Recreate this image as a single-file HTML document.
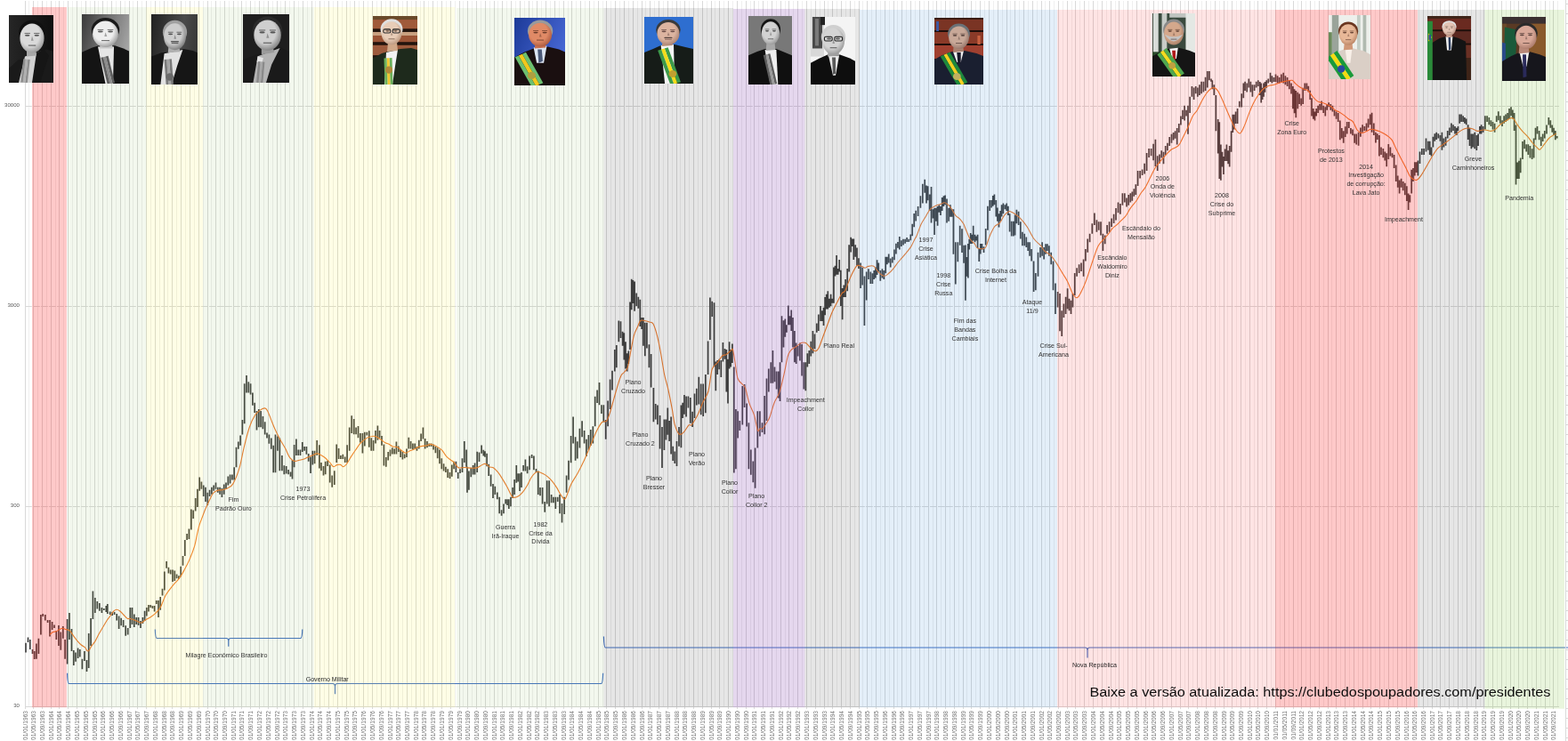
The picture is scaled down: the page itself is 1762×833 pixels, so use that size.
<!DOCTYPE html>
<html><head><meta charset="utf-8"><title>Ibovespa e Presidentes</title>
<style>
html,body{margin:0;padding:0;background:#fff;}
body{width:1762px;height:833px;overflow:hidden;position:relative;}
svg{position:absolute;left:0;top:0;display:block;}
.a{font-family:"Liberation Sans",Arial,sans-serif;font-size:7.1px;fill:#303030;text-anchor:middle;}
.b{fill:#262626;}
.xl{font-family:"Liberation Sans",Arial,sans-serif;font-size:6.6px;fill:#707070;text-anchor:end;}
.yl{font-family:"Liberation Sans",Arial,sans-serif;font-size:6.1px;fill:#595959;text-anchor:end;}
.url{font-family:"Liberation Sans",Arial,sans-serif;font-size:14px;fill:#0d0d0d;}
</style></head>
<body>
<svg width="1762" height="833" viewBox="0 0 1762 833">
<g id="chart">
<path d="M32.5 1V794.5M42.5 1V794.5M52.5 1V794.5M62.5 1V794.5M71.5 1V794.5M81.5 1V794.5M91.5 1V794.5M101.5 1V794.5M110.5 1V794.5M120.5 1V794.5M130.5 1V794.5M140.5 1V794.5M149.5 1V794.5M159.5 1V794.5M169.5 1V794.5M179.5 1V794.5M188.5 1V794.5M198.5 1V794.5M208.5 1V794.5M218.5 1V794.5M228.5 1V794.5M237.5 1V794.5M247.5 1V794.5M257.5 1V794.5M267.5 1V794.5M276.5 1V794.5M286.5 1V794.5M296.5 1V794.5M306.5 1V794.5M315.5 1V794.5M325.5 1V794.5M335.5 1V794.5M345.5 1V794.5M354.5 1V794.5M364.5 1V794.5M374.5 1V794.5M384.5 1V794.5M393.5 1V794.5M403.5 1V794.5M413.5 1V794.5M423.5 1V794.5M433.5 1V794.5M442.5 1V794.5M452.5 1V794.5M462.5 1V794.5M472.5 1V794.5M481.5 1V794.5M491.5 1V794.5M501.5 1V794.5M511.5 1V794.5M520.5 1V794.5M530.5 1V794.5M540.5 1V794.5M550.5 1V794.5M559.5 1V794.5M569.5 1V794.5M579.5 1V794.5M589.5 1V794.5M598.5 1V794.5M608.5 1V794.5M618.5 1V794.5M628.5 1V794.5M638.5 1V794.5M647.5 1V794.5M657.5 1V794.5M667.5 1V794.5M677.5 1V794.5M686.5 1V794.5M696.5 1V794.5M706.5 1V794.5M716.5 1V794.5M725.5 1V794.5M735.5 1V794.5M745.5 1V794.5M755.5 1V794.5M764.5 1V794.5M774.5 1V794.5M784.5 1V794.5M794.5 1V794.5M803.5 1V794.5M813.5 1V794.5M823.5 1V794.5M833.5 1V794.5M843.5 1V794.5M852.5 1V794.5M862.5 1V794.5M872.5 1V794.5M882.5 1V794.5M891.5 1V794.5M901.5 1V794.5M911.5 1V794.5M921.5 1V794.5M930.5 1V794.5M940.5 1V794.5M950.5 1V794.5M960.5 1V794.5M969.5 1V794.5M979.5 1V794.5M989.5 1V794.5M999.5 1V794.5M1008.5 1V794.5M1018.5 1V794.5M1028.5 1V794.5M1038.5 1V794.5M1048.5 1V794.5M1057.5 1V794.5M1067.5 1V794.5M1077.5 1V794.5M1086.5 1V794.5M1096.5 1V794.5M1106.5 1V794.5M1116.5 1V794.5M1126.5 1V794.5M1135.5 1V794.5M1145.5 1V794.5M1155.5 1V794.5M1165.5 1V794.5M1174.5 1V794.5M1184.5 1V794.5M1194.5 1V794.5M1204.5 1V794.5M1213.5 1V794.5M1223.5 1V794.5M1233.5 1V794.5M1243.5 1V794.5M1253.5 1V794.5M1262.5 1V794.5M1272.5 1V794.5M1282.5 1V794.5M1291.5 1V794.5M1301.5 1V794.5M1311.5 1V794.5M1321.5 1V794.5M1331.5 1V794.5M1340.5 1V794.5M1350.5 1V794.5M1360.5 1V794.5M1370.5 1V794.5M1379.5 1V794.5M1389.5 1V794.5M1399.5 1V794.5M1409.5 1V794.5M1418.5 1V794.5M1428.5 1V794.5M1438.5 1V794.5M1448.5 1V794.5M1458.5 1V794.5M1467.5 1V794.5M1477.5 1V794.5M1487.5 1V794.5M1496.5 1V794.5M1506.5 1V794.5M1516.5 1V794.5M1526.5 1V794.5M1536.5 1V794.5M1545.5 1V794.5M1555.5 1V794.5M1565.5 1V794.5M1575.5 1V794.5M1584.5 1V794.5M1594.5 1V794.5M1604.5 1V794.5M1614.5 1V794.5M1623.5 1V794.5M1633.5 1V794.5M1643.5 1V794.5M1653.5 1V794.5M1663.5 1V794.5M1672.5 1V794.5M1682.5 1V794.5M1692.5 1V794.5M1701.5 1V794.5M1711.5 1V794.5M1721.5 1V794.5M1731.5 1V794.5M1741.5 1V794.5M1750.5 1V794.5" stroke="#EFEFEF" stroke-width="1" fill="none"/>
<path d="M28.5 1V794.5M37.5 1V794.5M47.5 1V794.5M57.5 1V794.5M66.5 1V794.5M76.5 1V794.5M86.5 1V794.5M96.5 1V794.5M106.5 1V794.5M115.5 1V794.5M125.5 1V794.5M135.5 1V794.5M145.5 1V794.5M154.5 1V794.5M164.5 1V794.5M174.5 1V794.5M184.5 1V794.5M193.5 1V794.5M203.5 1V794.5M213.5 1V794.5M223.5 1V794.5M233.5 1V794.5M242.5 1V794.5M252.5 1V794.5M262.5 1V794.5M271.5 1V794.5M281.5 1V794.5M291.5 1V794.5M301.5 1V794.5M311.5 1V794.5M320.5 1V794.5M330.5 1V794.5M340.5 1V794.5M350.5 1V794.5M359.5 1V794.5M369.5 1V794.5M379.5 1V794.5M389.5 1V794.5M398.5 1V794.5M408.5 1V794.5M418.5 1V794.5M428.5 1V794.5M438.5 1V794.5M447.5 1V794.5M457.5 1V794.5M467.5 1V794.5M476.5 1V794.5M486.5 1V794.5M496.5 1V794.5M506.5 1V794.5M516.5 1V794.5M525.5 1V794.5M535.5 1V794.5M545.5 1V794.5M555.5 1V794.5M564.5 1V794.5M574.5 1V794.5M584.5 1V794.5M594.5 1V794.5M603.5 1V794.5M613.5 1V794.5M623.5 1V794.5M633.5 1V794.5M642.5 1V794.5M652.5 1V794.5M662.5 1V794.5M672.5 1V794.5M681.5 1V794.5M691.5 1V794.5M701.5 1V794.5M711.5 1V794.5M721.5 1V794.5M730.5 1V794.5M740.5 1V794.5M750.5 1V794.5M760.5 1V794.5M769.5 1V794.5M779.5 1V794.5M789.5 1V794.5M799.5 1V794.5M808.5 1V794.5M818.5 1V794.5M828.5 1V794.5M838.5 1V794.5M847.5 1V794.5M857.5 1V794.5M867.5 1V794.5M877.5 1V794.5M886.5 1V794.5M896.5 1V794.5M906.5 1V794.5M916.5 1V794.5M926.5 1V794.5M935.5 1V794.5M945.5 1V794.5M955.5 1V794.5M965.5 1V794.5M974.5 1V794.5M984.5 1V794.5M994.5 1V794.5M1004.5 1V794.5M1013.5 1V794.5M1023.5 1V794.5M1033.5 1V794.5M1043.5 1V794.5M1052.5 1V794.5M1062.5 1V794.5M1072.5 1V794.5M1082.5 1V794.5M1091.5 1V794.5M1101.5 1V794.5M1111.5 1V794.5M1121.5 1V794.5M1131.5 1V794.5M1140.5 1V794.5M1150.5 1V794.5M1160.5 1V794.5M1170.5 1V794.5M1179.5 1V794.5M1189.5 1V794.5M1199.5 1V794.5M1208.5 1V794.5M1218.5 1V794.5M1228.5 1V794.5M1238.5 1V794.5M1248.5 1V794.5M1257.5 1V794.5M1267.5 1V794.5M1277.5 1V794.5M1287.5 1V794.5M1296.5 1V794.5M1306.5 1V794.5M1316.5 1V794.5M1326.5 1V794.5M1335.5 1V794.5M1345.5 1V794.5M1355.5 1V794.5M1365.5 1V794.5M1375.5 1V794.5M1384.5 1V794.5M1394.5 1V794.5M1404.5 1V794.5M1413.5 1V794.5M1423.5 1V794.5M1433.5 1V794.5M1443.5 1V794.5M1453.5 1V794.5M1462.5 1V794.5M1472.5 1V794.5M1482.5 1V794.5M1492.5 1V794.5M1501.5 1V794.5M1511.5 1V794.5M1521.5 1V794.5M1531.5 1V794.5M1540.5 1V794.5M1550.5 1V794.5M1560.5 1V794.5M1570.5 1V794.5M1580.5 1V794.5M1589.5 1V794.5M1599.5 1V794.5M1609.5 1V794.5M1618.5 1V794.5M1628.5 1V794.5M1638.5 1V794.5M1648.5 1V794.5M1658.5 1V794.5M1667.5 1V794.5M1677.5 1V794.5M1687.5 1V794.5M1697.5 1V794.5M1706.5 1V794.5M1716.5 1V794.5M1726.5 1V794.5M1736.5 1V794.5M1745.5 1V794.5" stroke="#D9D9D9" stroke-width="1" fill="none"/>
<path d="M28 119.5H1752" stroke="#D9D9D9" stroke-width="1" stroke-dasharray="7.8 1.2"/>
<path d="M28 344.5H1752" stroke="#D9D9D9" stroke-width="1" stroke-dasharray="7.8 1.2"/>
<path d="M28 569.5H1752" stroke="#D9D9D9" stroke-width="1" stroke-dasharray="7.8 1.2"/>
<path d="M28 794.5H1752" stroke="#D9D9D9" stroke-width="1"/>
<path d="M28.5 794.5V797.1M37.5 794.5V797.1M47.5 794.5V797.1M57.5 794.5V797.1M66.5 794.5V797.1M76.5 794.5V797.1M86.5 794.5V797.1M96.5 794.5V797.1M106.5 794.5V797.1M115.5 794.5V797.1M125.5 794.5V797.1M135.5 794.5V797.1M145.5 794.5V797.1M154.5 794.5V797.1M164.5 794.5V797.1M174.5 794.5V797.1M184.5 794.5V797.1M193.5 794.5V797.1M203.5 794.5V797.1M213.5 794.5V797.1M223.5 794.5V797.1M233.5 794.5V797.1M242.5 794.5V797.1M252.5 794.5V797.1M262.5 794.5V797.1M271.5 794.5V797.1M281.5 794.5V797.1M291.5 794.5V797.1M301.5 794.5V797.1M311.5 794.5V797.1M320.5 794.5V797.1M330.5 794.5V797.1M340.5 794.5V797.1M350.5 794.5V797.1M359.5 794.5V797.1M369.5 794.5V797.1M379.5 794.5V797.1M389.5 794.5V797.1M398.5 794.5V797.1M408.5 794.5V797.1M418.5 794.5V797.1M428.5 794.5V797.1M438.5 794.5V797.1M447.5 794.5V797.1M457.5 794.5V797.1M467.5 794.5V797.1M476.5 794.5V797.1M486.5 794.5V797.1M496.5 794.5V797.1M506.5 794.5V797.1M516.5 794.5V797.1M525.5 794.5V797.1M535.5 794.5V797.1M545.5 794.5V797.1M555.5 794.5V797.1M564.5 794.5V797.1M574.5 794.5V797.1M584.5 794.5V797.1M594.5 794.5V797.1M603.5 794.5V797.1M613.5 794.5V797.1M623.5 794.5V797.1M633.5 794.5V797.1M642.5 794.5V797.1M652.5 794.5V797.1M662.5 794.5V797.1M672.5 794.5V797.1M681.5 794.5V797.1M691.5 794.5V797.1M701.5 794.5V797.1M711.5 794.5V797.1M721.5 794.5V797.1M730.5 794.5V797.1M740.5 794.5V797.1M750.5 794.5V797.1M760.5 794.5V797.1M769.5 794.5V797.1M779.5 794.5V797.1M789.5 794.5V797.1M799.5 794.5V797.1M808.5 794.5V797.1M818.5 794.5V797.1M828.5 794.5V797.1M838.5 794.5V797.1M847.5 794.5V797.1M857.5 794.5V797.1M867.5 794.5V797.1M877.5 794.5V797.1M886.5 794.5V797.1M896.5 794.5V797.1M906.5 794.5V797.1M916.5 794.5V797.1M926.5 794.5V797.1M935.5 794.5V797.1M945.5 794.5V797.1M955.5 794.5V797.1M965.5 794.5V797.1M974.5 794.5V797.1M984.5 794.5V797.1M994.5 794.5V797.1M1004.5 794.5V797.1M1013.5 794.5V797.1M1023.5 794.5V797.1M1033.5 794.5V797.1M1043.5 794.5V797.1M1052.5 794.5V797.1M1062.5 794.5V797.1M1072.5 794.5V797.1M1082.5 794.5V797.1M1091.5 794.5V797.1M1101.5 794.5V797.1M1111.5 794.5V797.1M1121.5 794.5V797.1M1131.5 794.5V797.1M1140.5 794.5V797.1M1150.5 794.5V797.1M1160.5 794.5V797.1M1170.5 794.5V797.1M1179.5 794.5V797.1M1189.5 794.5V797.1M1199.5 794.5V797.1M1208.5 794.5V797.1M1218.5 794.5V797.1M1228.5 794.5V797.1M1238.5 794.5V797.1M1248.5 794.5V797.1M1257.5 794.5V797.1M1267.5 794.5V797.1M1277.5 794.5V797.1M1287.5 794.5V797.1M1296.5 794.5V797.1M1306.5 794.5V797.1M1316.5 794.5V797.1M1326.5 794.5V797.1M1335.5 794.5V797.1M1345.5 794.5V797.1M1355.5 794.5V797.1M1365.5 794.5V797.1M1375.5 794.5V797.1M1384.5 794.5V797.1M1394.5 794.5V797.1M1404.5 794.5V797.1M1413.5 794.5V797.1M1423.5 794.5V797.1M1433.5 794.5V797.1M1443.5 794.5V797.1M1453.5 794.5V797.1M1462.5 794.5V797.1M1472.5 794.5V797.1M1482.5 794.5V797.1M1492.5 794.5V797.1M1501.5 794.5V797.1M1511.5 794.5V797.1M1521.5 794.5V797.1M1531.5 794.5V797.1M1540.5 794.5V797.1M1550.5 794.5V797.1M1560.5 794.5V797.1M1570.5 794.5V797.1M1580.5 794.5V797.1M1589.5 794.5V797.1M1599.5 794.5V797.1M1609.5 794.5V797.1M1618.5 794.5V797.1M1628.5 794.5V797.1M1638.5 794.5V797.1M1648.5 794.5V797.1M1658.5 794.5V797.1M1667.5 794.5V797.1M1677.5 794.5V797.1M1687.5 794.5V797.1M1697.5 794.5V797.1M1706.5 794.5V797.1M1716.5 794.5V797.1M1726.5 794.5V797.1M1736.5 794.5V797.1M1745.5 794.5V797.1" stroke="#D9D9D9" stroke-width="1"/>
<path d="M29 722.8V733.6M31.5 716.6V722M33.8 719V730M36.5 730V735M38.7 732V741M40.9 723.5V740.8M43.4 717.7V735M45.9 691V713.4M48.2 690V693M50.8 691V697.5M53.6 697V700M56 697V715.5M58.6 699V708M61 702.6V706M63.3 709V719M66 703V726M68.3 710.5V730.7M70.8 704V717.7M73.1 719V740.8M75.6 696V746.5M78 689V719M80.5 707V732M82.8 731V748M85 733.6V743.7M87.6 728.5V740M89.8 730V738.6M92.4 740.8V752.3M94.9 732V743M97.5 742V755M99.7 712V751M102.1 695V726M104.4 664.4V696M106.8 672V689M109.3 676V684.6M111.8 678V686.7M114.4 683V689M116.8 684V686M119.3 681V688M120.8 679V690M123.7 687.5V691M126.2 688V692M128.6 688V691M131.2 690V697.5M133.6 692.5V707M136.1 694.7V703.3M138.6 697V705M141.2 703.3V714.8M143.7 706V713.4M146.3 683V706M148.5 683V702M150.8 690.5V705M153.2 694V702M155.6 694V703M158 698V706M160.4 694V701M162.6 686.7V698M164.8 683V692.4M167 680V687.6M169.2 680V683M171.4 681V684M173.6 681V687.6M175.8 675V679M178 675V694M180.2 671V685.7M182.5 661.7V669.4M184.8 642.5V663.6M187.1 631V638.7M189.4 637.7V644.5M191.7 640.6V645.4M194 640.6V654M196.3 641.6V653M198.6 645.4V650.2M200.9 647.3V651M203.2 636.8V648.3M205.5 625V635.8M207.8 607V625M210.1 600V607M212.4 594.5V606M214.9 572.5V595.5M217.2 573.4V583M219.7 560V574.4M221.9 549.7V570M224.2 536.4V551.7M226.4 541.5V549.7M228.7 545.6V557.9M231 547.7V564M233.3 553.8V568M235.6 550.7V557.9M237.9 547.7V555.8M240.2 545.6V551.7M242.5 542.6V549.7M244.8 547.7V553.8M247.1 547.7V555.8M249.4 548.7V558.9M251.7 544.6V555.8M254 542.6V549.7M256.3 535.4V545.6M258.6 533.4V543.6M260.9 533.4V539.5M263.2 525.2V539.5M265.5 502.8V525.2M267.8 496.6V504.8M270.1 489.5V500.7M272.4 472.1V488.5M274.7 431.3V476.2M277 422.1V441.5M279.3 429.3V441.5M281.6 431.3V443.6M283.9 441.5V455.8M286.2 452.8V464M288.5 461.9V483.4M290.8 459.9V480.3M293.1 461.9V480.3M295.4 468V482.3M297.7 474.2V488.5M300 486.4V492.6M302.4 488.5V498.7M304.8 492.6V504.8M307.2 500.7V531.3M309.5 488.5V531.3M311.9 490.5V506.8M314.3 492.6V529.3M316.9 512V529.2M319.3 523.3V533.2M321.7 524V532.5M324.1 528V533.2M326.5 530.5V535.8M328.5 517.3V538.5M330.6 500V525.3M332.9 493.6V512M335.2 505.5V512M337.5 505.5V512M339.8 496.9V508M342.1 502V506.8M344.4 502V510.7M346.7 510V518.7M349 513.4V531.9M351.3 506.8V522.6M353.6 506.8V521.3M356.2 494.9V512M358.9 500.2V526.6M361 520V529.2M363.5 524V534.5M365.7 518.7V533.2M368.1 518V524M370.7 522.6V542.4M373.2 534.5V547.7M375.8 529.2V545M378.2 499.5V520M380.6 504.1V516M382.9 512V516M385.3 510.7V516M387.7 513.4V520M390.1 500.2V520M392.7 480.4V506.8M395.2 467.2V487M397.7 471V488.3M400.1 480.4V488.3M402.5 479V492.3M404.9 487V497.5M407.4 487V509.4M409.8 485.7V501.5M412.3 485.7V489.6M414.8 484.3V502.8M417.2 492.3V506.8M419.6 494.9V506.8M422 484V498.4M424.4 478.6V494.8M426.6 484V492.4M429 490V500.8M431.4 499.6V523.6M433.8 514V524.8M436.2 508V517.6M438.5 505.6V512.8M440.8 503.2V510.4M443.1 504.4V510.4M445.4 496.6V510.4M447.8 501.4V508M450.1 505.6V514M452.4 508V516.4M454.7 510.4V515.2M457 504.4V514M459.3 491.8V504.4M461.6 496V504.4M463.9 498.4V505.6M466.2 498.4V504.4M468.5 502V506.8M470.8 494.8V504.4M473.1 487.6V496M475.4 480.4V493.6M477.7 493V504.4M480 496V503.2M482.3 498.4V502M484.6 498.4V502M487 499.6V505.6M489.4 502V509.2M491.7 503.2V515.2M494 505.6V521.2M496.3 515.2V527.3M498.6 521.2V529.6M500.9 524.8V530.9M503.2 527.2V536.9M505.5 530.9V538M507.8 522.4V535.7M510.1 518.8V527.2M512.4 518.8V530.9M514.7 530.9V538M517 527.2V532M519.5 515.2V530.9M521.8 496V520M524.1 505.6V524.8M525 524.8V553.7M526.9 529.6V550.7M529.3 525.7V536.2M531.6 523V533.6M533.6 520.4V533.6M536.2 507.8V531M538.5 508.5V519M541.1 500.6V509.8M543.3 505.8V512.4M545 507.2V513.8M547.1 509.8V524.3M549.2 521.7V534.9M551.6 533.6V546.8M554 544.1V560M556.3 546.8V556M558.8 553.4V561.3M561.2 558.7V577.2M563.6 573.2V579.8M566 566.6V577.2M568.1 561.3V566.6M570 561.3V567.9M571.8 561.3V571.9M574 558.7V569.2M576.1 548.1V560M578.1 538.9V556M580.3 523V542.8M582.2 532.3V541.5M584.1 532.3V552M586 531V548.1M588.1 523V529.6M590.4 516.4V529.6M592.6 524.3V532.3M595 512.4V528.3M597.6 511.1V515.1M599.9 512.4V528.3M602.5 527V531M604.8 529.6V556M607 548.1V557.3M609.6 548.1V566.6M612.2 564V575.8M614.7 540.2V566.6M617.1 540.2V569.2M619.6 556V565.3M621.9 558.7V565.3M624.3 558.7V571.9M626.7 558.7V564M629 556V577.2M631.5 565.9V587.5M634.1 558.7V577.9M636.6 534.6V553.8M639 517.8V539.4M641.6 490.1V520.2M644.1 468.5V498.6M646.6 491.3V517.8M648.8 496.2V515.4M651.4 481.7V503.4M654.1 473.3V491.3M656.6 484.1V498.6M659 493.8V513M661.4 488.9V505.8M663.8 482.9V501M666.3 479.3V498.6M668.7 445.7V479.3M671.1 438.5V452.9M673.5 430V455.3M675.9 455.3V464.9M678.3 455.3V474.5M680.7 472.1V493.8M683.1 450.5V479.3M685.6 426.4V460.1M688 416.8V438.5M690.8 393V417.5M692.8 388V413.2M695.3 360.5V384.3M697.5 361.3V380M699.6 372.8V388.7M701.3 374.2V404.5M703 384.3V414.6M704.7 397.3V417.5M706.3 394.4V408.9M708 339.6V393M709.7 313.7V348.3M711.4 315.1V341M713.1 316.5V349.7M715.2 329.5V343.9M717.3 333.8V346.8M719.3 336.7V367M721.1 357V369.9M722.9 357V388.7M724.8 362.7V400.2M726.9 362.7V391.5M729.4 387.2V413.2M731.6 397.9V435.4M734.4 436.1V474.3M736.7 454.1V471.4M738.9 455.6V477.2M741.6 467.1V504.6M744 480.1V526M746.4 471.4V506M748.4 471.4V494.5M750.3 458.5V488.8M752.2 472.9V496M754.1 468.6V510.4M756.2 501.7V518M758.3 507.5V521M760.5 496V524M763 480.1V501.7M765.4 455.6V503.2M767.2 452.7V470M769 444V465.7M771.1 445.5V468.6M773.4 445.5V458.5M775.8 446.9V475.8M778.1 462.8V480.1M780.5 442.6V470M782.8 436.8V455.6M785.3 423.8V454.6M787.7 431.5V466.2M790.2 431.5V468M792.8 421V464.2M795.6 383.5V421M797.9 334.4V382M800.2 338.8V356M802.5 340.2V412.3M804.3 406.5V439.2M806.2 405.1V421M808.2 403.7V415.2M810.3 405.1V423.9M812.4 384.9V406.5M814.5 392.1V403.7M816.3 393V440.6M818 403.8V453.6M819.6 384.3V414.6M821.2 393V412.5M822.9 386.5V408.1M824.8 412.5V531.5M826.9 460.1V527.2M829.1 462.2V492.6M831.3 473V483.9M834.3 434.1V477.4M836.6 432V457.9M839.1 453.6V479.6M841.4 475.2V527.2M843.8 505.5V533.7M846.3 518.5V542.3M848.6 503.4V548.8M851.3 462.2V503.4M853.9 462.2V490.4M856.5 475.2V486.1M859.2 445V488.2M861.5 425.5V473M863.8 414.6V440.6M866.3 407.3V430.8M868.4 393.9V430.8M870.5 412.4V429.2M872.6 417.4V437.6M874.7 417.4V447.6M876.5 407.3V451M878.5 355.2V407.3M880.5 360.3V390.5M882.3 358.6V378.7M884 365.3V373.7M885.8 343.4V365.3M887.5 355.2V365.3M889.2 348.5V372M891 356.9V390.5M892.9 372V407.3M894.7 385.5V409M896.7 388.8V400.6M898.9 385.5V405.6M901.1 387.1V422.4M903.3 407.3V437.6M905.3 407.3V439.2M907.3 397.2V412.4M909.3 393.9V409M911.3 383.8V400.6M913.4 372V397.2M915.5 375.4V392.2M917.8 363.6V373.7M919.8 353.5V372M922 344.1V361M923.8 349.2V361M925.5 345.8V366M927.1 334V354.2M928.7 330.7V347.5M930.3 327.3V347.5M932 335.7V345.8M933.6 330.7V344.1M935.2 335.7V340.8M936.9 300.4V340.8M938.5 298.7V310.5M940.1 287V308.8M941.7 302.1V308.8M943.2 292V305.5M944.8 303.8V344.1M946.6 324V359.2M948.3 320.6V334M950.1 313.9V334M952.2 302.1V327.3M954.1 275.2V305.5M956.1 266.8V283.6M957.8 268.5V276.9M959.3 268.5V292M961.2 275.2V288.7M963 278.6V298.7M965 290.3V302.1M967.1 295.4V324M969.2 300.4V320.6M971.4 310.5V366M973.7 305.5V337.4M976 302.3V314M978.3 305.6V319.1M980.4 307.3V319.1M982.2 304V314M983.9 300.6V312.4M985.6 292.2V309M987.3 295.5V305.6M989.3 304V315.7M991.4 302.3V312.4M993.3 304V314M995.2 288.8V307.3M996.9 288.8V297.2M998.7 285.5V295.5M1000.7 290.5V300.6M1002.8 288.8V295.5M1004.9 280.4V292.2M1006.9 273.7V285.5M1008.9 272V278.7M1010.8 266.1V280.4M1012.9 270.3V277.1M1015 268.7V275.4M1017.1 268.7V273.7M1019.1 267V272M1021.2 268.7V272M1023.3 263.6V270.3M1025.2 251.8V265.3M1027.2 240.1V255.2M1029.2 236.7V248.5M1031.6 232V243M1034.4 220.2V233.7M1036.8 206.8V228.6M1039.2 201.7V216.8M1041 208.4V228.6M1042.7 209.3V225.3M1044.7 218.5V237M1046.5 210.1V250.5M1048.4 235.3V245.4M1050.1 233.7V263.9M1051.9 233.7V248.8M1053.6 232V253.8M1055.3 230.3V238.7M1057 232V242.1M1058.7 221.9V237M1060.4 220.2V232M1062.1 219.4V230.3M1064 223.6V250.5M1066.1 233.7V248.8M1067.9 230.3V243.7M1069.6 235.3V243.7M1071.4 235.3V285.8M1073.8 272.3V319.4M1076.3 272.3V294.2M1078.7 253.8V275.7M1081 257.2V284.1M1083 275.7V295.8M1084.9 275.5V337.7M1086.4 289V310.8M1087.9 273.9V312.5M1089.2 268.8V280.6M1090.7 262.1V273.9M1092.2 263.8V273.9M1093.7 253.7V270.5M1095.5 263.8V272.2M1097.1 265.5V270.5M1098.6 263.8V278.9M1100.2 278.9V294M1101.8 273.9V285.6M1103.5 273.9V280.6M1105.5 277.2V284M1107.7 257V275.5M1109.9 231.8V258.7M1112.2 225.1V236.9M1114.2 225.1V233.5M1115.8 220.1V231.8M1117.4 218.4V230.2M1119.3 225.1V243.6M1120.9 233.5V248.7M1122.5 240.3V255.4M1124.1 236.9V248.7M1125.6 230.2V243.6M1127.4 228.5V240.3M1129.4 230.2V235.2M1131.2 228.5V236.9M1132.9 231.8V241.9M1134.6 240.3V260.4M1136.7 248.7V265.5M1138.8 248.7V265.5M1140.6 241.5V264.6M1142.4 235.8V251.2M1144.6 237.7V253.1M1146.8 249.2V268.5M1148.9 260.8V276.2M1151.2 262.7V276.2M1153.3 266.5V278.1M1155.2 272.3V281.9M1157.1 272.3V287.7M1159.1 280V293.5M1161.6 293.5V328.1M1163.8 306.9V326.2M1166.5 283.8V310.8M1169 278.1V289.6M1171.1 272.3V287.7M1173.1 278.1V291.5M1175 274.2V285.8M1176.9 274.2V281.9M1178.9 276.2V287.7M1181.2 283.8V297.3M1183.5 293.5V326.2M1186 318.5V353.1M1188.6 328.1V345.4M1191 330V372.3M1193.2 349.2V378.1M1195.4 341.5V356.9M1197.6 333.8V353.1M1199.6 324.2V347.3M1201.5 335.8V349.2M1203.5 337.7V353.1M1205.5 330V345.4M1207.7 306.9V331.9M1210.1 301.2V310.8M1212.6 297.3V306.9M1215 295.4V305M1217.6 291.5V310.8M1219.9 280V293.5M1222.2 268.5V283.8M1224.6 262.7V272.3M1227.3 251.2V262.7M1229.9 239.6V253.1M1232.4 247.3V260.8M1234.7 249.2V258.8M1237 249.2V264.6M1239.4 262.7V281.9M1241.7 264.6V274.2M1244.1 253.1V262.7M1246.6 249.2V260.8M1249.1 245.4V255M1251.6 240.8V250.9M1254 234.1V247.6M1256.5 227.4V239.2M1258.9 229.1V240.8M1261.4 217.3V230.8M1263.8 217.3V227.4M1266 222.4V232.4M1268.2 219V230.8M1270.3 217.3V227.4M1272.3 215.6V225.7M1274.3 212.3V220.7M1276.3 207.2V219M1278.6 192.1V208.9M1281.1 192.1V200.5M1283.6 190.4V197.1M1286.1 183.7V195.5M1288.6 171.9V192.1M1291.1 166.9V177M1293.6 166.9V175.3M1296.1 161.8V180.3M1298.4 156.8V187.1M1300.7 175.3V192.1M1303 173.6V183.7M1305.2 169.2V177.6M1307.5 170.8V184.3M1309.7 164.1V174.2M1311.9 160.8V169.2M1314.2 154V164.1M1316.5 150.7V160.8M1318.6 149V157.4M1320.6 147.3V155.7M1322.7 144V162.4M1324.8 138.9V149M1326.9 130.5V140.6M1329 123.8V133.9M1331.1 118.7V135.5M1333.1 123.8V130.5M1335 118.7V150.7M1337.1 108.7V127.1M1339.4 96.9V108.7M1341.6 98.6V112M1343.7 96.9V105.3M1345.8 98.6V108.7M1347.9 95.2V107M1350.1 91.8V105.3M1352.4 91.8V103.6M1354.6 86.8V101.9M1356.8 80.1V98.6M1358.9 80.1V90.2M1361 88.5V91.8M1362.3 90.2V100.3M1364.3 95.2V107M1366.4 107V147.3M1368.7 133.9V172.5M1370.3 137.2V201.1M1371.9 162.4V202.8M1373.5 170.8V187.6M1375 175.9V196M1376.6 167.5V180.9M1378.4 162.4V180.9M1380.1 169.2V184.3M1381.7 164.1V187.6M1383.6 147.3V170.8M1385.3 128.8V149M1386.8 128.8V145.6M1388.6 125.5V138.9M1390.6 122.1V138.9M1392.8 113.7V120.4M1395.2 105.3V120.4M1397.3 93.5V110.3M1399.1 91.8V101.9M1401.2 93.5V103.6M1403.3 88.5V98.6M1405.4 91.8V103.6M1407.4 95.2V108.7M1409.6 95.2V101.9M1411.7 91.8V98.6M1413.8 90.2V96.9M1415.8 91.9V107.1M1417.2 93.6V115.5M1418.6 98.7V112.1M1420 93.6V108.7M1421.5 91.9V103.7M1423.2 90.3V98.7M1425.2 88.6V93.6M1427.5 81.8V91.9M1429.4 85.2V93.6M1431.5 86.9V91.9M1433.5 83.5V91.9M1435.6 85.2V93.6M1437.7 86.9V93.6M1439.9 83.5V91.9M1442.2 81.8V93.6M1444.4 85.2V95.3M1446.6 86.9V97M1448.8 90.3V100.3M1451 93.6V105.4M1452.9 97V122.2M1454.6 100.3V127.2M1456.3 102V132.3M1458.3 103.7V122.2M1460.2 105.4V117.1M1462.2 110.4V118.8M1464.2 98.7V117.1M1466.3 93.6V102M1468.4 93.6V100.3M1470.3 96.8V103.5M1472.2 101.8V111.9M1474 110.3V130.4M1475.8 122V133.8M1477.5 125.4V135.5M1479.2 122V130.4M1481.1 118.7V127.1M1483.1 117V123.7M1485.1 113.6V123.7M1487.2 118.7V127.1M1489.3 120.3V130.4M1491.2 117V123.7M1493.2 115.3V120.3M1495.3 117V123.7M1497.4 118.7V125.4M1499.5 123.7V130.4M1501.6 125.4V133.8M1503.7 127.1V137.1M1505.8 135.5V157.3M1507.8 143.9V155.6M1509.7 147.2V160.7M1511.7 142.2V153.9M1513.7 137.1V150.6M1515.8 137.1V143.9M1517.9 143.9V150.6M1520 145.5V152.3M1522.1 150.6V160.7M1524.2 150.6V162.4M1526.6 148.7V163.8M1528.9 143.6V153.7M1531.1 140.3V148.7M1533.3 141.9V147M1535.5 138.6V147M1537.6 133.5V143.6M1539.7 128.5V140.3M1541.6 126.8V148.7M1543.8 138.6V152M1545.9 148.7V160.4M1547.8 150.3V157.1M1549.9 152V175.5M1552 165.5V173.9M1554.3 167.1V177.2M1556.3 170.5V180.6M1558.2 172.2V187.3M1560.3 162.1V178.9M1562.4 165.5V175.5M1564.5 172.2V177.2M1566.6 173.9V189M1568.7 185.6V204.1M1570.7 197.4V210.8M1572.6 202.4V217.6M1574.6 200.8V210.8M1576.7 204.1V214.2M1578.8 205.8V219.2M1580.8 209.2V226M1582.6 217.6V236M1584.4 219.2V227.6M1586.2 190.7V217.6M1588 189V204.1M1589.8 182.3V197.4M1591.6 182.3V194M1593.4 180.6V197.4M1595.5 170.5V184M1597.8 167.1V173.9M1600.1 167.1V173.9M1602.5 155.4V170.5M1604.8 158.7V168.8M1606.7 158.7V173.9M1608.5 165.5V175.5M1610.4 153.7V165.5M1612.3 150.3V158.7M1614.2 148.7V157.1M1616.3 150.3V155.4M1618.4 152V158.7M1620.4 148.7V168.8M1622.4 155.4V165.5M1624.6 153.7V163.8M1626.7 147V155.4M1628.8 143.6V152M1630.9 138.6V148.7M1633 140.3V147M1635 142V150.4M1636.8 143.7V152.1M1638.5 142V147.1M1640.2 128.6V138.7M1642.1 128.6V137M1644.1 130.3V137M1645.9 131.9V138.7M1647.7 133.6V140.3M1649.7 140.3V157.1M1651.5 143.7V163.9M1653.4 150.4V167.2M1655.2 150.4V165.5M1657.2 148.7V167.2M1659.3 152.1V168.9M1661.1 150.4V163.9M1662.9 142V150.4M1664.6 140.3V150.4M1666.6 142V148.7M1668.9 130.3V145.4M1671.1 130.3V137M1673.3 131.9V140.3M1675.4 135.3V142M1677.5 137V145.4M1679.6 138.7V148.7M1681.7 130.3V137M1683.8 125.2V135.3M1685.9 130.3V138.7M1688 135.3V142M1690.1 130.3V138.7M1692.1 128.6V137M1694.1 126.9V135.3M1696 121.9V133.6M1698 120.2V130.3M1699.8 123.5V133.6M1701.6 126.9V147.1M1703.5 140.4V207.6M1705.2 182.4V200.9M1706.9 180.7V200.9M1708.7 177.4V194.2M1711 158.9V179M1713.1 157.2V167.3M1715.2 162.2V170.6M1717.3 162.2V174M1719.4 163.9V177.4M1721.6 167.3V179M1723.6 155.5V177.4M1725.5 143.7V157.2M1727.5 142V150.4M1729.6 147.1V157.2M1731.7 153.8V163.9M1733.7 150.4V158.9M1735.8 147.1V155.5M1738 140.4V150.4M1740.3 131.9V140.4M1742.3 135.3V143.7M1744.2 140.4V148.8M1746 143.7V152.1M1747.8 147.1V157.2M1749.7 153V155.5" stroke="#434343" stroke-width="1.7" fill="none"/>
<path d="M56 713.4 C56.6 712.92 58.4 711.1 59.6 710.5 C60.8 709.9 62 710.28 63.2 709.8 C64.4 709.32 65.6 708.2 66.8 707.6 C68 707 69.2 706.2 70.4 706.2 C71.6 706.2 72.68 707.13 74 707.6 C75.32 708.07 76.87 707.8 78.3 709 C79.73 710.2 81.15 712.87 82.6 714.8 C84.05 716.73 85.55 718.9 87 720.6 C88.45 722.3 89.87 723.8 91.3 725 C92.73 726.2 94.52 726.73 95.6 727.8 C96.68 728.87 97.08 730.8 97.8 731.4 C98.52 732 99.07 732.23 99.9 731.4 C100.73 730.57 101.6 728.2 102.8 726.4 C104 724.6 105.65 723 107.1 720.6 C108.55 718.2 110.05 714.63 111.5 712 C112.95 709.37 114.37 707.22 115.8 704.8 C117.23 702.38 118.67 699.67 120.1 697.5 C121.53 695.33 123.2 693.47 124.4 691.8 C125.6 690.13 126.22 688.58 127.3 687.5 C128.38 686.42 129.7 685.43 130.9 685.3 C132.1 685.17 133.18 685.75 134.5 686.7 C135.82 687.65 137.35 689.55 138.8 691 C140.25 692.45 142.03 694.68 143.2 695.4 C144.37 696.12 144.42 695 145.8 695.3 C147.18 695.6 149.58 696.47 151.5 697.2 C153.42 697.93 156.02 699.22 157.3 699.7 C158.58 700.18 158.25 700.52 159.2 700.1 C160.15 699.68 161.4 698.22 163 697.2 C164.6 696.18 166.88 695.27 168.8 694 C170.72 692.73 172.58 691.47 174.5 689.6 C176.42 687.73 178.38 686.17 180.3 682.8 C182.22 679.43 183.77 673.4 186 669.4 C188.23 665.4 191.13 662 193.7 658.8 C196.27 655.6 199.15 653.23 201.4 650.2 C203.65 647.17 205.28 644.12 207.2 640.6 C209.12 637.08 210.98 633.58 212.9 629.1 C214.82 624.62 216.77 620.42 218.7 613.7 C220.63 606.98 221.38 598.1 224.5 588.8 C227.62 579.5 234.22 564.08 237.4 557.9 C240.58 551.72 241.55 552.9 243.6 551.7 C245.65 550.5 247.67 551.2 249.7 550.7 C251.73 550.2 253.75 549.88 255.8 548.7 C257.85 547.52 259.8 547.35 262 543.6 C264.2 539.85 266.97 533 269 526.2 C271.03 519.4 272.32 510.45 274.2 502.8 C276.08 495.15 278.27 486.27 280.3 480.3 C282.33 474.33 284.35 470.23 286.4 467 C288.45 463.77 290.72 462.25 292.6 460.9 C294.48 459.55 296.35 458.73 297.7 458.9 C299.05 459.07 299.52 459.7 300.7 461.9 C301.88 464.1 303.43 468.7 304.8 472.1 C306.17 475.5 307.2 478.55 308.9 482.3 C310.6 486.05 313.05 490.97 315 494.6 C316.95 498.23 318.8 500.75 320.6 504.1 C322.4 507.45 324.05 512.32 325.8 514.7 C327.55 517.08 329.33 517.97 331.1 518.4 C332.87 518.83 334.63 517.7 336.4 517.3 C338.17 516.9 339.93 516.65 341.7 516 C343.47 515.35 345.23 514.17 347 513.4 C348.77 512.63 350.77 512.02 352.3 511.4 C353.83 510.78 354.88 509.7 356.2 509.7 C357.52 509.7 358.65 510.57 360.2 511.4 C361.75 512.23 363.75 513.27 365.5 514.7 C367.25 516.13 369.17 518.35 370.7 520 C372.23 521.65 373.37 524.17 374.7 524.6 C376.03 525.03 377.38 522.97 378.7 522.6 C380.02 522.23 381.4 522.07 382.6 522.4 C383.8 522.73 384.8 524.67 385.9 524.6 C387 524.53 387.77 523.87 389.2 522 C390.63 520.13 392.73 516.15 394.5 513.4 C396.27 510.65 398.03 508.03 399.8 505.5 C401.57 502.97 403.33 500.18 405.1 498.2 C406.87 496.22 408.87 494.7 410.4 493.6 C411.93 492.5 412.77 492.15 414.3 491.6 C415.83 491.05 418.08 490.37 419.6 490.3 C421.12 490.23 421.97 490.55 423.4 491.2 C424.83 491.85 426.6 493.1 428.2 494.2 C429.8 495.3 431.6 497 433 497.8 C434.4 498.6 435.2 498.3 436.6 499 C438 499.7 439.8 501.4 441.4 502 C443 502.6 444.6 501.9 446.2 502.6 C447.8 503.3 449.4 505.1 451 506.2 C452.6 507.3 454.2 509.1 455.8 509.2 C457.4 509.3 459 507.5 460.6 506.8 C462.2 506.1 463.8 505.7 465.4 505 C467 504.3 468.6 503.2 470.2 502.6 C471.8 502 473.38 501.7 475 501.4 C476.62 501.1 478.48 501.13 479.9 500.8 C481.32 500.47 482.32 499.5 483.5 499.4 C484.68 499.3 485.6 499.67 487 500.2 C488.4 500.73 490.28 501.6 491.9 502.6 C493.52 503.6 495.1 504.5 496.7 506.2 C498.3 507.9 499.9 511 501.5 512.8 C503.1 514.6 504.9 515.9 506.3 517 C507.7 518.1 508.5 517.98 509.9 519.4 C511.3 520.82 513.3 524.43 514.7 525.5 C516.1 526.57 517.1 525.8 518.3 525.8 C519.5 525.8 519.85 525.42 521.9 525.5 C523.95 525.58 528.28 526.23 530.6 526.3 C532.92 526.37 534.27 526.33 535.8 525.9 C537.33 525.47 538.25 524.45 539.8 523.7 C541.35 522.95 543.33 521.18 545.1 521.4 C546.87 521.62 548.87 524.28 550.4 525 C551.93 525.72 552.77 524.72 554.3 525.7 C555.83 526.68 557.83 528.7 559.6 530.9 C561.37 533.1 563.13 536.03 564.9 538.9 C566.67 541.77 568.67 545.25 570.2 548.1 C571.73 550.95 573 554.13 574.1 556 C575.2 557.87 575.47 558.97 576.8 559.3 C578.13 559.63 580.35 558.98 582.1 558 C583.85 557.02 585.55 555.48 587.3 553.4 C589.05 551.32 591.05 548.15 592.6 545.5 C594.15 542.85 595.28 539.7 596.6 537.5 C597.92 535.3 599.18 533.5 600.5 532.3 C601.82 531.1 602.95 530.3 604.5 530.3 C606.05 530.3 608.03 531.42 609.8 532.3 C611.57 533.18 613.33 534.18 615.1 535.6 C616.87 537.02 618.65 538.72 620.4 540.8 C622.15 542.88 624 545.57 625.6 548.1 C627.2 550.63 628.5 553.83 630 556 C631.5 558.17 633.23 561.47 634.6 561.1 C635.97 560.73 637 556.62 638.2 553.8 C639.4 550.98 640 547.8 641.8 544.2 C643.6 540.6 646.58 536.6 649 532.2 C651.42 527.8 653.88 523 656.3 517.8 C658.72 512.6 661.1 506.62 663.5 501 C665.9 495.38 668.5 488.52 670.7 484.1 C672.9 479.68 674.9 476.3 676.7 474.5 C678.5 472.7 680.1 474.9 681.5 473.3 C682.9 471.7 683.7 469.1 685.1 464.9 C686.5 460.7 688.3 453.7 689.9 448.1 C691.5 442.5 693.3 435.72 694.7 431.3 C696.1 426.88 697.27 423.65 698.3 421.6 C699.33 419.55 699.75 420.4 700.9 419 C702.05 417.6 704 416.57 705.2 413.2 C706.4 409.83 706.9 404.82 708.1 398.8 C709.3 392.78 710.97 382.4 712.4 377.1 C713.83 371.8 715.5 369.77 716.7 367 C717.9 364.23 718.4 361.58 719.6 360.5 C720.8 359.42 722.22 360.25 723.9 360.5 C725.58 360.75 728.02 361.4 729.7 362 C731.38 362.6 732.55 361.58 734 364.1 C735.45 366.62 737.03 371.95 738.4 377.1 C739.77 382.25 740.83 387.68 742.2 395 C743.57 402.32 745.13 413.78 746.6 421 C748.07 428.22 749.55 431.82 751 438.3 C752.45 444.78 754.1 453.42 755.3 459.9 C756.5 466.38 756.88 472.52 758.2 477.2 C759.52 481.88 761.52 486.55 763.2 488 C764.88 489.45 766.5 487.58 768.3 485.9 C770.1 484.22 772.57 479.23 774 477.9 C775.43 476.57 775.68 478.98 776.9 477.9 C778.12 476.82 779.95 473.68 781.3 471.4 C782.65 469.12 783.55 467.43 785 464.2 C786.45 460.97 788.18 456.03 790 452 C791.82 447.97 794.2 446.13 795.9 440 C797.6 433.87 798.52 420.53 800.2 415.2 C801.88 409.87 804.08 410.53 806 408 C807.92 405.47 810.03 401.57 811.7 400 C813.37 398.43 814.32 399.67 816 398.6 C817.68 397.53 820.55 394.53 821.8 393.6 C823.05 392.67 822.83 390.93 823.5 393 C824.17 395.07 824.87 400.58 825.8 406 C826.73 411.42 827.6 421.08 829.1 425.5 C830.6 429.92 833.4 430.75 834.8 432.5 C836.2 434.25 836.28 432.48 837.5 436 C838.72 439.52 840.43 448.5 842.1 453.6 C843.77 458.7 845.95 461.55 847.5 466.6 C849.05 471.65 850.32 481.38 851.4 483.9 C852.48 486.42 853.03 482.07 854 481.7 C854.97 481.33 855.95 482.78 857.2 481.7 C858.45 480.62 860.2 477.37 861.5 475.2 C862.8 473.03 863.57 472.45 865 468.7 C866.43 464.95 868.27 457.33 870.1 452.7 C871.93 448.07 874.18 446.22 876 440.9 C877.82 435.58 879.47 427.52 881 420.8 C882.53 414.08 883.93 405.08 885.2 400.6 C886.47 396.12 887.05 395.72 888.6 393.9 C890.15 392.08 892.55 391.1 894.5 389.7 C896.45 388.3 898.48 386.2 900.3 385.5 C902.12 384.8 903.72 384.67 905.4 385.5 C907.08 386.33 908.58 388.97 910.4 390.5 C912.22 392.03 914.7 394.57 916.3 394.7 C917.9 394.83 918.53 394.13 920 391.3 C921.47 388.47 923.42 382.2 925.1 377.7 C926.78 373.2 928.42 368.78 930.1 364.3 C931.78 359.82 933.52 354.72 935.2 350.8 C936.88 346.88 938.38 344.3 940.2 340.8 C942.02 337.3 944.55 332.05 946.1 329.8 C947.65 327.55 948.38 329.12 949.5 327.3 C950.62 325.48 951.55 321.98 952.8 318.9 C954.05 315.82 955.45 312.02 957 308.8 C958.55 305.58 960.83 301.33 962.1 299.6 C963.37 297.87 963.48 298.4 964.6 298.4 C965.72 298.4 967.55 299.12 968.8 299.6 C970.05 300.08 971.07 301.3 972.1 301.3 C973.13 301.3 973.38 299.95 975 299.6 C976.62 299.25 979.83 298.2 981.8 299.2 C983.77 300.2 984.85 303.75 986.8 305.6 C988.75 307.45 991.53 310.02 993.5 310.3 C995.47 310.58 996.92 308.63 998.6 307.3 C1000.28 305.97 1001.92 304.27 1003.6 302.3 C1005.28 300.33 1007.02 297.6 1008.7 295.5 C1010.38 293.4 1012.03 291.65 1013.7 289.7 C1015.37 287.75 1017.02 285.9 1018.7 283.8 C1020.38 281.7 1022.25 279.62 1023.8 277.1 C1025.35 274.58 1026.97 270.67 1028 268.7 C1029.03 266.73 1028.82 268.07 1030 265.3 C1031.18 262.53 1033.42 255.7 1035.1 252.1 C1036.78 248.5 1038.42 246.5 1040.1 243.7 C1041.78 240.9 1043.23 237.4 1045.2 235.3 C1047.17 233.2 1049.95 232.07 1051.9 231.1 C1053.85 230.13 1055.37 230.05 1056.9 229.5 C1058.43 228.95 1059.83 227.8 1061.1 227.8 C1062.37 227.8 1063.23 228.52 1064.5 229.5 C1065.77 230.48 1067.17 231.6 1068.7 233.7 C1070.23 235.8 1072.02 240 1073.7 242.1 C1075.38 244.2 1077.25 244.63 1078.8 246.3 C1080.35 247.97 1081.97 250.28 1083 252.1 C1084.03 253.92 1083.82 254.42 1085 257.2 C1086.18 259.98 1088.42 266.02 1090.1 268.8 C1091.78 271.58 1093.7 272.22 1095.1 273.9 C1096.5 275.58 1096.53 278.07 1098.5 278.9 C1100.47 279.73 1104.93 280.3 1106.9 278.9 C1108.87 277.5 1109.18 273.3 1110.3 270.5 C1111.42 267.7 1112.35 264.77 1113.6 262.1 C1114.85 259.43 1116.12 256.47 1117.8 254.5 C1119.48 252.53 1121.88 252.4 1123.7 250.3 C1125.52 248.2 1127.02 244 1128.7 241.9 C1130.38 239.8 1132.4 238.25 1133.8 237.7 C1135.2 237.15 1136.07 238.17 1137.1 238.6 C1138.13 239.03 1138.43 239.17 1140 240.3 C1141.57 241.43 1144.13 242.95 1146.5 245.4 C1148.87 247.85 1151.63 251.15 1154.2 255 C1156.77 258.85 1159.33 264.97 1161.9 268.5 C1164.47 272.03 1167.67 273.97 1169.6 276.2 C1171.53 278.43 1171.57 279.98 1173.5 281.9 C1175.43 283.82 1178.97 285.45 1181.2 287.7 C1183.43 289.95 1184.98 292.52 1186.9 295.4 C1188.82 298.28 1191.35 302.77 1192.7 305 C1194.05 307.23 1193.85 306.88 1195 308.8 C1196.15 310.72 1197.87 312.97 1199.6 316.5 C1201.33 320.03 1203.63 326.95 1205.4 330 C1207.17 333.05 1208.6 335.12 1210.2 334.8 C1211.8 334.48 1213.23 331.47 1215 328.1 C1216.77 324.73 1218.55 320.7 1220.8 314.6 C1223.05 308.5 1226.27 297.9 1228.5 291.5 C1230.73 285.1 1232.28 279.88 1234.2 276.2 C1236.12 272.52 1238.07 271.65 1240 269.4 C1241.93 267.15 1244.13 264.78 1245.8 262.7 C1247.47 260.62 1248.45 258.58 1250 256.9 C1251.55 255.22 1253.42 254.15 1255.1 252.6 C1256.78 251.05 1258.42 249.28 1260.1 247.6 C1261.78 245.92 1263.52 244.75 1265.2 242.5 C1266.88 240.25 1268.25 236.9 1270.2 234.1 C1272.15 231.3 1274.93 228.5 1276.9 225.7 C1278.87 222.9 1280.32 219.82 1282 217.3 C1283.68 214.78 1285.32 213.4 1287 210.6 C1288.68 207.8 1290.42 203.87 1292.1 200.5 C1293.78 197.13 1295.7 192.92 1297.1 190.4 C1298.5 187.88 1298.33 188.1 1300.5 185.4 C1302.67 182.7 1307.52 177.05 1310.1 174.2 C1312.68 171.35 1314.18 169.7 1316 168.3 C1317.82 166.9 1319.47 166.78 1321 165.8 C1322.53 164.82 1323.65 164.63 1325.2 162.4 C1326.75 160.17 1328.62 155.75 1330.3 152.4 C1331.98 149.05 1333.63 145.95 1335.3 142.3 C1336.97 138.65 1338.62 133.58 1340.3 130.5 C1341.98 127.42 1343.72 126.6 1345.4 123.8 C1347.08 121 1348.72 116.78 1350.4 113.7 C1352.08 110.62 1353.9 107.53 1355.5 105.3 C1357.1 103.07 1358.55 101.42 1360 100.3 C1361.45 99.18 1362.8 98.33 1364.2 98.6 C1365.6 98.87 1366.85 99.67 1368.4 101.9 C1369.95 104.13 1371.82 108.35 1373.5 112 C1375.18 115.65 1376.82 119.88 1378.5 123.8 C1380.18 127.72 1381.92 131.87 1383.6 135.5 C1385.28 139.13 1386.92 143.22 1388.6 145.6 C1390.28 147.98 1392.02 150.63 1393.7 149.8 C1395.38 148.97 1397.03 144.38 1398.7 140.6 C1400.37 136.82 1402.02 131.3 1403.7 127.1 C1405.38 122.9 1406.92 119.03 1408.8 115.4 C1410.68 111.77 1413.12 107.95 1415 105.3 C1416.88 102.65 1418.13 101.03 1420.1 99.5 C1422.07 97.97 1424.85 96.8 1426.8 96.1 C1428.75 95.4 1429.83 95.85 1431.8 95.3 C1433.77 94.75 1436.35 93.5 1438.6 92.8 C1440.85 92.1 1443.07 91.52 1445.3 91.1 C1447.53 90.68 1450.32 89.88 1452 90.3 C1453.68 90.72 1454 92.35 1455.4 93.6 C1456.8 94.85 1458.72 96.68 1460.4 97.8 C1462.08 98.92 1463.9 99.6 1465.5 100.3 C1467.1 101 1468.4 100.62 1470 102 C1471.6 103.38 1473.42 106.67 1475.1 108.6 C1476.78 110.53 1478.42 112.48 1480.1 113.6 C1481.78 114.72 1483.52 114.73 1485.2 115.3 C1486.88 115.87 1488.52 116.3 1490.2 117 C1491.88 117.7 1493.62 118.38 1495.3 119.5 C1496.98 120.62 1498.63 122.58 1500.3 123.7 C1501.97 124.82 1503.62 125.22 1505.3 126.2 C1506.98 127.18 1508.72 128.33 1510.4 129.6 C1512.08 130.87 1513.72 132.55 1515.4 133.8 C1517.08 135.05 1518.9 135.07 1520.5 137.1 C1522.1 139.13 1523.4 143.93 1525 146 C1526.6 148.07 1528.42 149.2 1530.1 149.5 C1531.78 149.8 1533.42 148.5 1535.1 147.8 C1536.78 147.1 1538.52 145.58 1540.2 145.3 C1541.88 145.02 1543.52 145.68 1545.2 146.1 C1546.88 146.52 1548.62 147.1 1550.3 147.8 C1551.98 148.5 1553.63 149.32 1555.3 150.3 C1556.97 151.28 1558.77 152.43 1560.3 153.7 C1561.83 154.97 1563.1 155.67 1564.5 157.9 C1565.9 160.13 1567.15 163.88 1568.7 167.1 C1570.25 170.32 1571.92 173.55 1573.8 177.2 C1575.68 180.85 1578.12 185.35 1580 189 C1581.88 192.65 1583.13 196.87 1585.1 199.1 C1587.07 201.33 1589.85 202.68 1591.8 202.4 C1593.75 202.12 1595.12 199.63 1596.8 197.4 C1598.48 195.17 1599.93 192.37 1601.9 189 C1603.87 185.63 1606.37 180.85 1608.6 177.2 C1610.83 173.55 1613.05 169.62 1615.3 167.1 C1617.55 164.58 1619.85 163.77 1622.1 162.1 C1624.35 160.43 1626.65 158.77 1628.8 157.1 C1630.95 155.43 1633.12 153.63 1635 152.1 C1636.88 150.57 1638.42 149.08 1640.1 147.9 C1641.78 146.72 1643.42 145.65 1645.1 145 C1646.78 144.35 1648.52 144 1650.2 144 C1651.88 144 1653.52 144.43 1655.2 145 C1656.88 145.57 1658.62 147.2 1660.3 147.4 C1661.98 147.6 1663.63 146.4 1665.3 146.2 C1666.97 146 1668.62 146 1670.3 146.2 C1671.98 146.4 1673.72 147.53 1675.4 147.4 C1677.08 147.27 1678.72 146.58 1680.4 145.4 C1682.08 144.22 1683.62 141.83 1685.5 140.3 C1687.38 138.77 1689.68 137.45 1691.7 136.2 C1693.72 134.95 1696.05 133.23 1697.6 132.8 C1699.15 132.37 1699.73 132.33 1701 133.6 C1702.27 134.87 1703.52 138.02 1705.2 140.4 C1706.88 142.78 1709.13 145.67 1711.1 147.9 C1713.07 150.13 1715.18 151.7 1717 153.8 C1718.82 155.9 1720.33 158.53 1722 160.5 C1723.67 162.47 1725.6 164.33 1727 165.6 C1728.4 166.87 1729 168.67 1730.4 168.1 C1731.8 167.53 1733.72 164.3 1735.4 162.2 C1737.08 160.1 1738.82 157.18 1740.5 155.5 C1742.18 153.82 1744.1 153 1745.5 152.1 C1746.9 151.2 1748.33 150.43 1748.9 150.1" stroke="#ED7D31" stroke-width="1.1" fill="none" stroke-linejoin="round"/>
<path d="M174.3 707.5 Q174.6 717.5 176.3 717.5 H254.3 Q256.8 717.5 256.8 720.5 V726.8 M256.8 720.5 Q256.8 717.5 259.3 717.5 H337.8 Q339.5 717.5 339.8 707.5" stroke="#4472C4" stroke-width="1.2" fill="none"/>
<path d="M75.6 756.8 Q75.9 768.5 77.6 768.5 H374 Q376.5 768.5 376.5 771.5 V780.2 M376.5 771.5 Q376.5 768.5 379 768.5 H675.6 Q677.3 768.5 677.6 756.8" stroke="#4472C4" stroke-width="1.2" fill="none"/>
<path d="M678.4 715.5 Q678.7 728 680.4 728 H1219.5 Q1222 728 1222 731 V739.4 M1222 731 Q1222 728 1224.5 728 H1798" stroke="#4472C4" stroke-width="1.2" fill="none"/>
</g>
<g id="bands">
<rect x="36" y="8" width="39" height="787.2" fill="rgba(255,10,10,0.22)"/>
<rect x="76" y="8" width="88.4" height="787.2" fill="rgba(105,167,42,0.08)"/>
<rect x="164.4" y="8" width="63.6" height="787.2" fill="rgba(255,245,5,0.1)"/>
<rect x="228" y="8" width="125" height="787.2" fill="rgba(105,167,42,0.08)"/>
<rect x="353" y="8" width="158.3" height="787.2" fill="rgba(255,245,5,0.1)"/>
<rect x="513" y="9" width="165.5" height="786.2" fill="rgba(105,167,42,0.08)"/>
<rect x="678.5" y="9" width="145.5" height="786.2" fill="rgba(5,5,5,0.1)"/>
<rect x="824" y="10" width="80.4" height="785.2" fill="rgba(125,55,170,0.2)"/>
<rect x="904.4" y="10" width="61.6" height="785.2" fill="rgba(5,5,5,0.1)"/>
<rect x="966" y="11" width="222" height="784.2" fill="rgba(30,122,205,0.12)"/>
<rect x="1188" y="11" width="245" height="784.2" fill="rgba(255,30,30,0.12)"/>
<rect x="1433" y="11" width="160" height="784.2" fill="rgba(255,10,10,0.22)"/>
<rect x="1593" y="11" width="75.5" height="784.2" fill="rgba(5,5,5,0.1)"/>
<rect x="1668.5" y="11" width="89.5" height="785.7" fill="rgba(108,188,28,0.15)"/>
</g>
<g id="labels">
<text transform="translate(31.3 799) rotate(-90)" class="xl">01/01/1963</text>
<text transform="translate(40.3 799) rotate(-90)" class="xl">01/05/1963</text>
<text transform="translate(50.3 799) rotate(-90)" class="xl">01/09/1963</text>
<text transform="translate(60.3 799) rotate(-90)" class="xl">01/01/1964</text>
<text transform="translate(69.3 799) rotate(-90)" class="xl">01/05/1964</text>
<text transform="translate(79.3 799) rotate(-90)" class="xl">01/09/1964</text>
<text transform="translate(89.3 799) rotate(-90)" class="xl">01/01/1965</text>
<text transform="translate(99.3 799) rotate(-90)" class="xl">01/05/1965</text>
<text transform="translate(109.3 799) rotate(-90)" class="xl">01/09/1965</text>
<text transform="translate(118.3 799) rotate(-90)" class="xl">01/01/1966</text>
<text transform="translate(128.3 799) rotate(-90)" class="xl">01/05/1966</text>
<text transform="translate(138.3 799) rotate(-90)" class="xl">01/09/1966</text>
<text transform="translate(148.3 799) rotate(-90)" class="xl">01/01/1967</text>
<text transform="translate(157.3 799) rotate(-90)" class="xl">01/05/1967</text>
<text transform="translate(167.3 799) rotate(-90)" class="xl">01/09/1967</text>
<text transform="translate(177.3 799) rotate(-90)" class="xl">01/01/1968</text>
<text transform="translate(187.3 799) rotate(-90)" class="xl">01/05/1968</text>
<text transform="translate(196.3 799) rotate(-90)" class="xl">01/09/1968</text>
<text transform="translate(206.3 799) rotate(-90)" class="xl">01/01/1969</text>
<text transform="translate(216.3 799) rotate(-90)" class="xl">01/05/1969</text>
<text transform="translate(226.3 799) rotate(-90)" class="xl">01/09/1969</text>
<text transform="translate(236.3 799) rotate(-90)" class="xl">01/01/1970</text>
<text transform="translate(245.3 799) rotate(-90)" class="xl">01/05/1970</text>
<text transform="translate(255.3 799) rotate(-90)" class="xl">01/09/1970</text>
<text transform="translate(265.3 799) rotate(-90)" class="xl">01/01/1971</text>
<text transform="translate(274.3 799) rotate(-90)" class="xl">01/05/1971</text>
<text transform="translate(284.3 799) rotate(-90)" class="xl">01/09/1971</text>
<text transform="translate(294.3 799) rotate(-90)" class="xl">01/01/1972</text>
<text transform="translate(304.3 799) rotate(-90)" class="xl">01/05/1972</text>
<text transform="translate(314.3 799) rotate(-90)" class="xl">01/09/1972</text>
<text transform="translate(323.3 799) rotate(-90)" class="xl">01/01/1973</text>
<text transform="translate(333.3 799) rotate(-90)" class="xl">01/05/1973</text>
<text transform="translate(343.3 799) rotate(-90)" class="xl">01/09/1973</text>
<text transform="translate(353.3 799) rotate(-90)" class="xl">01/01/1974</text>
<text transform="translate(362.3 799) rotate(-90)" class="xl">01/05/1974</text>
<text transform="translate(372.3 799) rotate(-90)" class="xl">01/09/1974</text>
<text transform="translate(382.3 799) rotate(-90)" class="xl">01/01/1975</text>
<text transform="translate(392.3 799) rotate(-90)" class="xl">01/05/1975</text>
<text transform="translate(401.3 799) rotate(-90)" class="xl">01/09/1975</text>
<text transform="translate(411.3 799) rotate(-90)" class="xl">01/01/1976</text>
<text transform="translate(421.3 799) rotate(-90)" class="xl">01/05/1976</text>
<text transform="translate(431.3 799) rotate(-90)" class="xl">01/09/1976</text>
<text transform="translate(441.3 799) rotate(-90)" class="xl">01/01/1977</text>
<text transform="translate(450.3 799) rotate(-90)" class="xl">01/05/1977</text>
<text transform="translate(460.3 799) rotate(-90)" class="xl">01/09/1977</text>
<text transform="translate(470.3 799) rotate(-90)" class="xl">01/01/1978</text>
<text transform="translate(479.3 799) rotate(-90)" class="xl">01/05/1978</text>
<text transform="translate(489.3 799) rotate(-90)" class="xl">01/09/1978</text>
<text transform="translate(499.3 799) rotate(-90)" class="xl">01/01/1979</text>
<text transform="translate(509.3 799) rotate(-90)" class="xl">01/05/1979</text>
<text transform="translate(519.3 799) rotate(-90)" class="xl">01/09/1979</text>
<text transform="translate(528.3 799) rotate(-90)" class="xl">01/01/1980</text>
<text transform="translate(538.3 799) rotate(-90)" class="xl">01/05/1980</text>
<text transform="translate(548.3 799) rotate(-90)" class="xl">01/09/1980</text>
<text transform="translate(558.3 799) rotate(-90)" class="xl">01/01/1981</text>
<text transform="translate(567.3 799) rotate(-90)" class="xl">01/05/1981</text>
<text transform="translate(577.3 799) rotate(-90)" class="xl">01/09/1981</text>
<text transform="translate(587.3 799) rotate(-90)" class="xl">01/01/1982</text>
<text transform="translate(597.3 799) rotate(-90)" class="xl">01/05/1982</text>
<text transform="translate(606.3 799) rotate(-90)" class="xl">01/09/1982</text>
<text transform="translate(616.3 799) rotate(-90)" class="xl">01/01/1983</text>
<text transform="translate(626.3 799) rotate(-90)" class="xl">01/05/1983</text>
<text transform="translate(636.3 799) rotate(-90)" class="xl">01/09/1983</text>
<text transform="translate(645.3 799) rotate(-90)" class="xl">01/01/1984</text>
<text transform="translate(655.3 799) rotate(-90)" class="xl">01/05/1984</text>
<text transform="translate(665.3 799) rotate(-90)" class="xl">01/09/1984</text>
<text transform="translate(675.3 799) rotate(-90)" class="xl">01/01/1985</text>
<text transform="translate(684.3 799) rotate(-90)" class="xl">01/05/1985</text>
<text transform="translate(694.3 799) rotate(-90)" class="xl">01/09/1985</text>
<text transform="translate(704.3 799) rotate(-90)" class="xl">01/01/1986</text>
<text transform="translate(714.3 799) rotate(-90)" class="xl">01/05/1986</text>
<text transform="translate(724.3 799) rotate(-90)" class="xl">01/09/1986</text>
<text transform="translate(733.3 799) rotate(-90)" class="xl">01/01/1987</text>
<text transform="translate(743.3 799) rotate(-90)" class="xl">01/05/1987</text>
<text transform="translate(753.3 799) rotate(-90)" class="xl">01/09/1987</text>
<text transform="translate(763.3 799) rotate(-90)" class="xl">01/01/1988</text>
<text transform="translate(772.3 799) rotate(-90)" class="xl">01/05/1988</text>
<text transform="translate(782.3 799) rotate(-90)" class="xl">01/09/1988</text>
<text transform="translate(792.3 799) rotate(-90)" class="xl">01/01/1989</text>
<text transform="translate(802.3 799) rotate(-90)" class="xl">01/05/1989</text>
<text transform="translate(811.3 799) rotate(-90)" class="xl">01/09/1989</text>
<text transform="translate(821.3 799) rotate(-90)" class="xl">01/01/1990</text>
<text transform="translate(831.3 799) rotate(-90)" class="xl">01/05/1990</text>
<text transform="translate(841.3 799) rotate(-90)" class="xl">01/09/1990</text>
<text transform="translate(850.3 799) rotate(-90)" class="xl">01/01/1991</text>
<text transform="translate(860.3 799) rotate(-90)" class="xl">01/05/1991</text>
<text transform="translate(870.3 799) rotate(-90)" class="xl">01/09/1991</text>
<text transform="translate(880.3 799) rotate(-90)" class="xl">01/01/1992</text>
<text transform="translate(889.3 799) rotate(-90)" class="xl">01/05/1992</text>
<text transform="translate(899.3 799) rotate(-90)" class="xl">01/09/1992</text>
<text transform="translate(909.3 799) rotate(-90)" class="xl">01/01/1993</text>
<text transform="translate(919.3 799) rotate(-90)" class="xl">01/05/1993</text>
<text transform="translate(929.3 799) rotate(-90)" class="xl">01/09/1993</text>
<text transform="translate(938.3 799) rotate(-90)" class="xl">01/01/1994</text>
<text transform="translate(948.3 799) rotate(-90)" class="xl">01/05/1994</text>
<text transform="translate(958.3 799) rotate(-90)" class="xl">01/09/1994</text>
<text transform="translate(968.3 799) rotate(-90)" class="xl">01/01/1995</text>
<text transform="translate(977.3 799) rotate(-90)" class="xl">01/05/1995</text>
<text transform="translate(987.3 799) rotate(-90)" class="xl">01/09/1995</text>
<text transform="translate(997.3 799) rotate(-90)" class="xl">01/01/1996</text>
<text transform="translate(1007.3 799) rotate(-90)" class="xl">01/05/1996</text>
<text transform="translate(1016.3 799) rotate(-90)" class="xl">01/09/1996</text>
<text transform="translate(1026.3 799) rotate(-90)" class="xl">01/01/1997</text>
<text transform="translate(1036.3 799) rotate(-90)" class="xl">01/05/1997</text>
<text transform="translate(1046.3 799) rotate(-90)" class="xl">01/09/1997</text>
<text transform="translate(1055.3 799) rotate(-90)" class="xl">01/01/1998</text>
<text transform="translate(1065.3 799) rotate(-90)" class="xl">01/05/1998</text>
<text transform="translate(1075.3 799) rotate(-90)" class="xl">01/09/1998</text>
<text transform="translate(1085.3 799) rotate(-90)" class="xl">01/01/1999</text>
<text transform="translate(1094.3 799) rotate(-90)" class="xl">01/05/1999</text>
<text transform="translate(1104.3 799) rotate(-90)" class="xl">01/09/1999</text>
<text transform="translate(1114.3 799) rotate(-90)" class="xl">01/01/2000</text>
<text transform="translate(1124.3 799) rotate(-90)" class="xl">01/05/2000</text>
<text transform="translate(1134.3 799) rotate(-90)" class="xl">01/09/2000</text>
<text transform="translate(1143.3 799) rotate(-90)" class="xl">01/01/2001</text>
<text transform="translate(1153.3 799) rotate(-90)" class="xl">01/05/2001</text>
<text transform="translate(1163.3 799) rotate(-90)" class="xl">01/09/2001</text>
<text transform="translate(1173.3 799) rotate(-90)" class="xl">01/01/2002</text>
<text transform="translate(1182.3 799) rotate(-90)" class="xl">01/05/2002</text>
<text transform="translate(1192.3 799) rotate(-90)" class="xl">01/09/2002</text>
<text transform="translate(1202.3 799) rotate(-90)" class="xl">01/01/2003</text>
<text transform="translate(1211.3 799) rotate(-90)" class="xl">01/05/2003</text>
<text transform="translate(1221.3 799) rotate(-90)" class="xl">01/09/2003</text>
<text transform="translate(1231.3 799) rotate(-90)" class="xl">01/01/2004</text>
<text transform="translate(1241.3 799) rotate(-90)" class="xl">01/05/2004</text>
<text transform="translate(1251.3 799) rotate(-90)" class="xl">01/09/2004</text>
<text transform="translate(1260.3 799) rotate(-90)" class="xl">01/01/2005</text>
<text transform="translate(1270.3 799) rotate(-90)" class="xl">01/05/2005</text>
<text transform="translate(1280.3 799) rotate(-90)" class="xl">01/09/2005</text>
<text transform="translate(1290.3 799) rotate(-90)" class="xl">01/01/2006</text>
<text transform="translate(1299.3 799) rotate(-90)" class="xl">01/05/2006</text>
<text transform="translate(1309.3 799) rotate(-90)" class="xl">01/09/2006</text>
<text transform="translate(1319.3 799) rotate(-90)" class="xl">01/01/2007</text>
<text transform="translate(1329.3 799) rotate(-90)" class="xl">01/05/2007</text>
<text transform="translate(1338.3 799) rotate(-90)" class="xl">01/09/2007</text>
<text transform="translate(1348.3 799) rotate(-90)" class="xl">01/01/2008</text>
<text transform="translate(1358.3 799) rotate(-90)" class="xl">01/05/2008</text>
<text transform="translate(1368.3 799) rotate(-90)" class="xl">01/09/2008</text>
<text transform="translate(1378.3 799) rotate(-90)" class="xl">01/01/2009</text>
<text transform="translate(1387.3 799) rotate(-90)" class="xl">01/05/2009</text>
<text transform="translate(1397.3 799) rotate(-90)" class="xl">01/09/2009</text>
<text transform="translate(1407.3 799) rotate(-90)" class="xl">01/01/2010</text>
<text transform="translate(1416.3 799) rotate(-90)" class="xl">01/05/2010</text>
<text transform="translate(1426.3 799) rotate(-90)" class="xl">01/09/2010</text>
<text transform="translate(1436.3 799) rotate(-90)" class="xl">01/01/2011</text>
<text transform="translate(1446.3 799) rotate(-90)" class="xl">01/05/2011</text>
<text transform="translate(1456.3 799) rotate(-90)" class="xl">01/09/2011</text>
<text transform="translate(1465.3 799) rotate(-90)" class="xl">01/01/2012</text>
<text transform="translate(1475.3 799) rotate(-90)" class="xl">01/05/2012</text>
<text transform="translate(1485.3 799) rotate(-90)" class="xl">01/09/2012</text>
<text transform="translate(1495.3 799) rotate(-90)" class="xl">01/01/2013</text>
<text transform="translate(1504.3 799) rotate(-90)" class="xl">01/05/2013</text>
<text transform="translate(1514.3 799) rotate(-90)" class="xl">01/09/2013</text>
<text transform="translate(1524.3 799) rotate(-90)" class="xl">01/01/2014</text>
<text transform="translate(1534.3 799) rotate(-90)" class="xl">01/05/2014</text>
<text transform="translate(1543.3 799) rotate(-90)" class="xl">01/09/2014</text>
<text transform="translate(1553.3 799) rotate(-90)" class="xl">01/01/2015</text>
<text transform="translate(1563.3 799) rotate(-90)" class="xl">01/05/2015</text>
<text transform="translate(1573.3 799) rotate(-90)" class="xl">01/09/2015</text>
<text transform="translate(1583.3 799) rotate(-90)" class="xl">01/01/2016</text>
<text transform="translate(1592.3 799) rotate(-90)" class="xl">01/05/2016</text>
<text transform="translate(1602.3 799) rotate(-90)" class="xl">01/09/2016</text>
<text transform="translate(1612.3 799) rotate(-90)" class="xl">01/01/2017</text>
<text transform="translate(1621.3 799) rotate(-90)" class="xl">01/05/2017</text>
<text transform="translate(1631.3 799) rotate(-90)" class="xl">01/09/2017</text>
<text transform="translate(1641.3 799) rotate(-90)" class="xl">01/01/2018</text>
<text transform="translate(1651.3 799) rotate(-90)" class="xl">01/05/2018</text>
<text transform="translate(1661.3 799) rotate(-90)" class="xl">01/09/2018</text>
<text transform="translate(1670.3 799) rotate(-90)" class="xl">01/01/2019</text>
<text transform="translate(1680.3 799) rotate(-90)" class="xl">01/05/2019</text>
<text transform="translate(1690.3 799) rotate(-90)" class="xl">01/09/2019</text>
<text transform="translate(1700.3 799) rotate(-90)" class="xl">01/01/2020</text>
<text transform="translate(1709.3 799) rotate(-90)" class="xl">01/05/2020</text>
<text transform="translate(1719.3 799) rotate(-90)" class="xl">01/09/2020</text>
<text transform="translate(1729.3 799) rotate(-90)" class="xl">01/01/2021</text>
<text transform="translate(1739.3 799) rotate(-90)" class="xl">01/05/2021</text>
<text transform="translate(1748.3 799) rotate(-90)" class="xl">01/09/2021</text>
<text x="22" y="120.4" class="yl">30000</text>
<text x="22" y="345.4" class="yl">3000</text>
<text x="22" y="570.4" class="yl">300</text>
<text x="22" y="795.4" class="yl">30</text>
<path d="M1759.5 0V833M1760 4.5H1762M1760 15.5H1762M1760 26.5H1762M1760 37.5H1762M1760 48.5H1762M1760 59.5H1762M1760 70.5H1762M1760 81.5H1762M1760 92.5H1762M1760 103.5H1762M1760 114.5H1762M1760 125.5H1762M1760 136.5H1762M1760 147.5H1762M1760 158.5H1762M1760 169.5H1762M1760 180.5H1762M1760 191.5H1762M1760 202.5H1762M1760 213.5H1762M1760 224.5H1762M1760 235.5H1762M1760 246.5H1762M1760 257.5H1762M1760 268.5H1762M1760 279.5H1762M1760 290.5H1762M1760 301.5H1762M1760 312.5H1762M1760 323.5H1762M1760 334.5H1762M1760 345.5H1762M1760 356.5H1762M1760 367.5H1762M1760 378.5H1762M1760 389.5H1762M1760 400.5H1762M1760 411.5H1762M1760 422.5H1762M1760 433.5H1762M1760 444.5H1762M1760 455.5H1762M1760 466.5H1762M1760 477.5H1762M1760 488.5H1762M1760 499.5H1762M1760 510.5H1762M1760 521.5H1762M1760 532.5H1762M1760 543.5H1762M1760 554.5H1762M1760 565.5H1762M1760 576.5H1762M1760 587.5H1762M1760 598.5H1762M1760 609.5H1762M1760 620.5H1762M1760 631.5H1762M1760 642.5H1762M1760 653.5H1762M1760 664.5H1762M1760 675.5H1762M1760 686.5H1762M1760 697.5H1762M1760 708.5H1762M1760 719.5H1762M1760 730.5H1762M1760 741.5H1762M1760 752.5H1762M1760 763.5H1762M1760 774.5H1762M1760 785.5H1762M1760 796.5H1762M1760 807.5H1762M1760 818.5H1762M1760 829.5H1762" stroke="#D9D9D9" stroke-width="1" fill="none"/>
<text x="262.4" y="563.9" class="a">Fim</text>
<text x="262.4" y="573.8" class="a">Padrão Ouro</text>
<text x="340.5" y="552" class="a">1973</text>
<text x="340.5" y="561.9" class="a">Crise Petrolífera</text>
<text x="568" y="594.8" class="a">Guerra</text>
<text x="568" y="604.7" class="a">Irã-Iraque</text>
<text x="607.4" y="591.6" class="a">1982</text>
<text x="607.4" y="601.5" class="a">Crise da</text>
<text x="607.4" y="611.4" class="a">Dívida</text>
<text x="711.5" y="431.8" class="a">Plano</text>
<text x="711.5" y="441.7" class="a">Cruzado</text>
<text x="719.4" y="491.4" class="a">Plano</text>
<text x="719.4" y="501.3" class="a">Cruzado 2</text>
<text x="735" y="539.7" class="a">Plano</text>
<text x="735" y="549.6" class="a">Bresser</text>
<text x="783" y="512.8" class="a">Plano</text>
<text x="783" y="522.7" class="a">Verão</text>
<text x="820" y="544.7" class="a">Plano</text>
<text x="820" y="554.6" class="a">Collor</text>
<text x="850.2" y="559.8" class="a">Plano</text>
<text x="850.2" y="569.7" class="a">Collor 2</text>
<text x="905.3" y="451.6" class="a">Impeachment</text>
<text x="905.3" y="461.5" class="a">Collor</text>
<text x="942.7" y="390.6" class="a">Plano Real</text>
<text x="1040.5" y="271.7" class="a">1997</text>
<text x="1040.5" y="281.6" class="a">Crise</text>
<text x="1040.5" y="291.5" class="a">Asiática</text>
<text x="1060.3" y="311.8" class="a">1998</text>
<text x="1060.3" y="321.7" class="a">Crise</text>
<text x="1060.3" y="331.6" class="a">Russa</text>
<text x="1084.4" y="362.7" class="a">Fim das</text>
<text x="1084.4" y="372.6" class="a">Bandas</text>
<text x="1084.4" y="382.5" class="a">Cambiais</text>
<text x="1119" y="306.7" class="a">Crise Bolha da</text>
<text x="1119" y="316.6" class="a">Internet</text>
<text x="1160" y="341.9" class="a">Ataque</text>
<text x="1160" y="351.8" class="a">11/9</text>
<text x="1184" y="390.7" class="a">Crise Sul-</text>
<text x="1184" y="400.6" class="a">Americana</text>
<text x="1249.9" y="292.2" class="a">Escândalo</text>
<text x="1249.9" y="302.1" class="a">Waldomiro</text>
<text x="1249.9" y="312" class="a">Diniz</text>
<text x="1282.4" y="258.7" class="a">Escândalo do</text>
<text x="1282.4" y="268.6" class="a">Mensalão</text>
<text x="1306.4" y="202.5" class="a">2006</text>
<text x="1306.4" y="212.4" class="a">Onda de</text>
<text x="1306.4" y="222.3" class="a">Violência</text>
<text x="1373" y="221.7" class="a">2008</text>
<text x="1373" y="231.6" class="a">Crise do</text>
<text x="1373" y="241.5" class="a">Subprime</text>
<text x="1451.7" y="140.8" class="a">Crise</text>
<text x="1451.7" y="150.7" class="a">Zona Euro</text>
<text x="1495.9" y="172" class="a">Protestos</text>
<text x="1495.9" y="181.9" class="a">de 2013</text>
<text x="1535.1" y="189.5" class="a">2014</text>
<text x="1535.1" y="199.4" class="a">Investigação</text>
<text x="1535.1" y="209.3" class="a">de corrupção:</text>
<text x="1535.1" y="219.2" class="a">Lava Jato</text>
<text x="1577.4" y="248.5" class="a">Impeachment</text>
<text x="1655.5" y="180.8" class="a">Greve</text>
<text x="1655.5" y="190.7" class="a">Caminhoneiros</text>
<text x="1707.3" y="224.7" class="a">Pandemia</text>
<text x="254.4" y="739" class="a">Milagre Econômico Brasileiro</text>
<text x="367.7" y="766" class="a b">Governo Militar</text>
<text x="1230" y="750" class="a b">Nova República</text>
</g>
<text x="1224.5" y="782.5" textLength="517.8" lengthAdjust="spacingAndGlyphs" class="url">Baixe a versão atualizada: https://clubedospoupadores.com/presidentes</text>
<g id="photos">
<svg x="10" y="17" width="50" height="76" viewBox="0 0 100 150" preserveAspectRatio="none"><defs><linearGradient id="p1" x1="0" y1="0" x2="1" y2="0"><stop offset="0" stop-color="#262626"/><stop offset="1" stop-color="#0e0e0e"/></linearGradient></defs><rect width="100" height="150" fill="url(#p1)"/><path d="M0.0 150.0 L0.0 118.0 L20.0 100.0 L44.0 92.0 L60.0 86.0 L84.0 76.0 L100.0 80.0 L100.0 150.0 Z" fill="#1a1a1a"/><path d="M36.0 92.0 L62.0 84.0 L72.0 80.0 L54.0 150.0 L22.0 150.0 Z" fill="#d2d2d2"/><path d="M47.5 98.9 L42.5 98.3 L36.5 150.3 L41.5 150.9 Z" fill="#8e8e8e"/><path d="M42.5 98.3 L37.5 97.7 L31.5 149.7 L36.5 150.3 Z" fill="#b0b0b0"/><path d="M37.5 97.7 L32.5 97.1 L26.5 149.1 L31.5 149.7 Z" fill="#8e8e8e"/><path d="M62.0 84.0 L78.0 76.0 L90.0 90.0 L70.0 150.0 L52.0 150.0 Z" fill="#161616"/><path d="M40.0 70.0 L60.0 70.0 L62.0 90.0 L40.0 92.0 Z" fill="#a8a8a8"/><defs><radialGradient id="p2" cx="0.42" cy="0.38" r="0.7"><stop offset="0" stop-color="#dadada"/><stop offset="0.55" stop-color="#dadada"/><stop offset="1" stop-color="#8a8a8a"/></radialGradient></defs><ellipse cx="52.0" cy="40.4" rx="29.7" ry="29.2" fill="#101010"/><ellipse cx="52.0" cy="51.1" rx="27.2" ry="32.3" fill="url(#p2)"/><g fill="#222" opacity="0.7"><ellipse cx="41.4" cy="44.9" rx="5.6" ry="2.1"/><ellipse cx="62.6" cy="44.9" rx="5.6" ry="2.1"/><rect x="35.2" y="39.4" width="12.6" height="1.7"/><rect x="56.2" y="39.4" width="12.6" height="1.7"/><path d="M52.0 46.6 L55.4 56.9 L49.8 56.9 Z" opacity="0.5"/><rect x="43.6" y="66.2" width="16.8" height="2.1"/></g></svg>
<svg x="92" y="16" width="53" height="78" viewBox="0 0 100 150" preserveAspectRatio="none"><defs><linearGradient id="p3" x1="0" y1="0" x2="1" y2="0.4"><stop offset="0" stop-color="#3a3a3a"/><stop offset="0.6" stop-color="#7a7a7a"/><stop offset="1" stop-color="#a4a4a4"/></linearGradient></defs><rect width="100" height="150" fill="url(#p3)"/><path d="M0.0 150.0 L0.0 82.0 L22.0 72.0 L36.0 68.0 L70.0 68.0 L88.0 74.0 L100.0 80.0 L100.0 150.0 Z" fill="#141414"/><path d="M34.0 70.0 L68.0 70.0 L66.0 150.0 L50.0 150.0 Z" fill="#e6e6e6"/><path d="M55.8 90.1 L50.6 91.4 L64.6 149.4 L69.8 148.1 Z" fill="#5e5e5e"/><path d="M50.6 91.4 L45.4 92.6 L59.4 150.6 L64.6 149.4 Z" fill="#8c8c8c"/><path d="M45.4 92.6 L40.2 93.9 L54.2 151.9 L59.4 150.6 Z" fill="#5e5e5e"/><path d="M40.0 58.0 L62.0 58.0 L66.0 74.0 L38.0 74.0 Z" fill="#c8c8c8"/><defs><radialGradient id="p4" cx="0.42" cy="0.38" r="0.7"><stop offset="0" stop-color="#eeeeee"/><stop offset="0.55" stop-color="#eeeeee"/><stop offset="1" stop-color="#8a8a8a"/></radialGradient></defs><ellipse cx="50.0" cy="33.5" rx="29.7" ry="25.6" fill="#1a1a1a"/><ellipse cx="50.0" cy="42.8" rx="27.2" ry="28.4" fill="url(#p4)"/><g fill="#1a1a1a" opacity="0.7"><ellipse cx="39.4" cy="37.4" rx="5.6" ry="1.8"/><ellipse cx="60.6" cy="37.4" rx="5.6" ry="1.8"/><rect x="33.2" y="32.6" width="12.6" height="1.5"/><rect x="54.2" y="32.6" width="12.6" height="1.5"/><path d="M50.0 38.9 L53.4 47.9 L47.8 47.9 Z" opacity="0.5"/><rect x="41.6" y="56.1" width="16.8" height="1.8"/></g></svg>
<svg x="170" y="16" width="52" height="79" viewBox="0 0 100 150" preserveAspectRatio="none"><defs><linearGradient id="p5" x1="0" y1="0" x2="1" y2="0.2"><stop offset="0" stop-color="#222"/><stop offset="0.7" stop-color="#4a4a4a"/><stop offset="1" stop-color="#3a3a3a"/></linearGradient></defs><rect width="100" height="150" fill="url(#p5)"/><path d="M0.0 150.0 L0.0 90.0 L22.0 82.0 L40.0 80.0 L70.0 74.0 L90.0 78.0 L100.0 82.0 L100.0 150.0 Z" fill="#161616"/><path d="M28.0 84.0 L68.0 76.0 L56.0 110.0 L44.0 150.0 L20.0 150.0 Z" fill="#e2e2e2"/><path d="M44.0 95.4 L38.7 95.8 L42.7 149.8 L48.0 149.4 Z" fill="#7a7a7a"/><path d="M38.7 95.8 L33.3 96.2 L37.3 150.2 L42.7 149.8 Z" fill="#a4a4a4"/><path d="M33.3 96.2 L28.0 96.6 L32.0 150.6 L37.3 150.2 Z" fill="#7a7a7a"/><circle cx="40" cy="134" r="8" fill="#6a6a6a"/><path d="M38.0 64.0 L60.0 64.0 L62.0 80.0 L36.0 82.0 Z" fill="#b0b0b0"/><defs><radialGradient id="p6" cx="0.42" cy="0.38" r="0.7"><stop offset="0" stop-color="#cdcdcd"/><stop offset="0.55" stop-color="#cdcdcd"/><stop offset="1" stop-color="#6a6a6a"/></radialGradient></defs><ellipse cx="51.0" cy="38.5" rx="26.1" ry="25.6" fill="#a0a0a0"/><ellipse cx="51.0" cy="47.8" rx="23.9" ry="28.4" fill="url(#p6)"/><g fill="#1a1a1a" opacity="0.7"><ellipse cx="41.6" cy="42.4" rx="4.9" ry="1.8"/><ellipse cx="60.4" cy="42.4" rx="4.9" ry="1.8"/><rect x="36.2" y="37.6" width="11.1" height="1.5"/><rect x="54.7" y="37.6" width="11.1" height="1.5"/><path d="M51.0 43.9 L54.0 52.9 L49.0 52.9 Z" opacity="0.5"/><rect x="43.6" y="61.1" width="14.8" height="1.8"/></g><rect x="42.1" y="56.9" width="17.7" height="2.7" rx="2" fill="#3a3a3a" opacity="0.8"/></svg>
<svg x="273" y="16" width="52" height="77" viewBox="0 0 100 150" preserveAspectRatio="none"><rect width="100" height="150" fill="#1e1e1e"/><path d="M0.0 150.0 L0.0 100.0 L30.0 88.0 L80.0 72.0 L100.0 82.0 L100.0 150.0 Z" fill="#1a1a1a"/><path d="M32.0 92.0 L80.0 74.0 L62.0 110.0 L50.0 150.0 L22.0 150.0 Z" fill="#b4b4b4"/><path d="M32.0 92.0 L44.0 96.0 L40.0 110.0 L30.0 104.0 Z" fill="#e4e4e4"/><path d="M47.0 104.6 L42.3 104.2 L38.3 150.2 L43.0 150.6 Z" fill="#8a8a8a"/><path d="M42.3 104.2 L37.7 103.8 L33.7 149.8 L38.3 150.2 Z" fill="#a8a8a8"/><path d="M37.7 103.8 L33.0 103.4 L29.0 149.4 L33.7 149.8 Z" fill="#8a8a8a"/><path d="M40.0 72.0 L64.0 70.0 L68.0 84.0 L40.0 88.0 Z" fill="#9c9c9c"/><defs><radialGradient id="p7" cx="0.42" cy="0.38" r="0.7"><stop offset="0" stop-color="#cfcfcf"/><stop offset="0.55" stop-color="#cfcfcf"/><stop offset="1" stop-color="#707070"/></radialGradient></defs><ellipse cx="53.0" cy="35.2" rx="32.1" ry="30.1" fill="#2a2a2a"/><ellipse cx="53.0" cy="46.1" rx="29.3" ry="33.2" fill="url(#p7)"/><g fill="#222" opacity="0.7"><ellipse cx="41.5" cy="39.8" rx="6.0" ry="2.1"/><ellipse cx="64.5" cy="39.8" rx="6.0" ry="2.1"/><rect x="34.9" y="34.1" width="13.6" height="1.8"/><rect x="57.5" y="34.1" width="13.6" height="1.8"/><path d="M53.0 41.5 L56.6 52.1 L50.6 52.1 Z" opacity="0.5"/><rect x="43.9" y="61.7" width="18.1" height="2.1"/></g></svg>
<svg x="419" y="18" width="50" height="77" viewBox="0 0 100 150" preserveAspectRatio="none"><rect width="100" height="150" fill="#7a4028"/><rect y="0" width="100" height="8" fill="#6a4a2a"/><rect y="8" width="100" height="20" fill="#a05a3a"/><rect y="28" width="100" height="7" fill="#22140e"/><rect y="35" width="100" height="8" fill="#c8a080"/><rect y="43" width="100" height="14" fill="#9a5436"/><rect y="57" width="100" height="7" fill="#22140e"/><rect y="64" width="100" height="22" fill="#9c5a3c"/><rect y="86" width="100" height="6" fill="#22140e"/><rect y="92" width="100" height="30" fill="#8a4a30"/><path d="M0.0 150.0 L0.0 92.0 L20.0 82.0 L40.0 76.0 L62.0 72.0 L86.0 70.0 L100.0 74.0 L100.0 150.0 Z" fill="#1e2a1c"/><path d="M30.0 80.0 L56.0 74.0 L50.0 110.0 L44.0 150.0 L26.0 150.0 Z" fill="#f2f2f2"/><path d="M43.0 91.7 L37.0 91.9 L39.0 149.9 L45.0 149.7 Z" fill="#6ab05a"/><path d="M37.0 91.9 L31.0 92.1 L33.0 150.1 L39.0 149.9 Z" fill="#f0c830"/><path d="M31.0 92.1 L25.0 92.3 L27.0 150.3 L33.0 150.1 Z" fill="#6ab05a"/><circle cx="36" cy="118" r="8" fill="#b08a3a"/><path d="M34.0 58.0 L54.0 58.0 L56.0 76.0 L32.0 78.0 Z" fill="#d0a888"/><defs><radialGradient id="p8" cx="0.42" cy="0.38" r="0.7"><stop offset="0" stop-color="#e8cdb8"/><stop offset="0.55" stop-color="#e8cdb8"/><stop offset="1" stop-color="#b08a70"/></radialGradient></defs><ellipse cx="42.0" cy="29.2" rx="24.9" ry="23.0" fill="#e0e0e0"/><ellipse cx="42.0" cy="37.6" rx="22.8" ry="25.4" fill="url(#p8)"/><g fill="#4a3020" opacity="0.7"><ellipse cx="33.1" cy="32.8" rx="4.7" ry="1.6"/><ellipse cx="50.9" cy="32.8" rx="4.7" ry="1.6"/><rect x="27.9" y="28.4" width="10.6" height="1.4"/><rect x="45.5" y="28.4" width="10.6" height="1.4"/><path d="M42.0 34.1 L44.8 42.2 L40.1 42.2 Z" opacity="0.5"/><rect x="34.9" y="49.5" width="14.1" height="1.6"/></g><g fill="none" stroke="#2a2a2a" stroke-width="2.2"><rect x="23.7" y="29.0" width="16.0" height="8.1" rx="3"/><rect x="44.4" y="29.0" width="16.0" height="8.1" rx="3"/></g></svg>
<svg x="578" y="20" width="57" height="76" viewBox="0 0 100 150" preserveAspectRatio="none"><defs><linearGradient id="p9" x1="0" y1="0" x2="1" y2="0.6"><stop offset="0" stop-color="#1c3a98"/><stop offset="1" stop-color="#4a6ad8"/></linearGradient></defs><rect width="100" height="150" fill="url(#p9)"/><path d="M0.0 150.0 L0.0 88.0 L20.0 76.0 L38.0 68.0 L66.0 64.0 L88.0 70.0 L100.0 76.0 L100.0 150.0 Z" fill="#1a0f10"/><path d="M38.0 66.0 L64.0 62.0 L58.0 100.0 L44.0 100.0 Z" fill="#dce4f2"/><path d="M46.0 70.0 L54.0 70.0 L56.0 96.0 L48.0 100.0 Z" fill="#4a5878"/><path d="M22.7 76.6 L15.6 80.2 L49.6 148.2 L56.7 144.6 Z" fill="#6cc070"/><path d="M15.6 80.2 L8.4 83.8 L42.4 151.8 L49.6 148.2 Z" fill="#f2c81c"/><path d="M8.4 83.8 L1.3 87.4 L35.3 155.4 L42.4 151.8 Z" fill="#6cc070"/><circle cx="34" cy="128" r="8" fill="#b0a040"/><path d="M42.0 50.0 L60.0 50.0 L62.0 66.0 L40.0 68.0 Z" fill="#c87050"/><defs><radialGradient id="p10" cx="0.42" cy="0.38" r="0.7"><stop offset="0" stop-color="#e08a66"/><stop offset="0.55" stop-color="#e08a66"/><stop offset="1" stop-color="#a05038"/></radialGradient></defs><ellipse cx="51.0" cy="29.0" rx="24.9" ry="23.9" fill="#9a9a9a"/><ellipse cx="51.0" cy="37.7" rx="22.8" ry="26.4" fill="url(#p10)"/><g fill="#3a1a10" opacity="0.7"><ellipse cx="42.1" cy="32.6" rx="4.7" ry="1.7"/><ellipse cx="59.9" cy="32.6" rx="4.7" ry="1.7"/><rect x="36.9" y="28.1" width="10.6" height="1.4"/><rect x="54.5" y="28.1" width="10.6" height="1.4"/><path d="M51.0 34.0 L53.8 42.5 L49.1 42.5 Z" opacity="0.5"/><rect x="43.9" y="48.6" width="14.1" height="1.7"/></g></svg>
<svg x="724" y="19" width="55" height="75" viewBox="0 0 100 150" preserveAspectRatio="none"><rect width="100" height="150" fill="#2e6ed0"/><path d="M0.0 150.0 L0.0 80.0 L18.0 72.0 L34.0 64.0 L62.0 62.0 L84.0 68.0 L100.0 72.0 L100.0 150.0 Z" fill="#161c18"/><path d="M34.0 64.0 L60.0 62.0 L62.0 150.0 L42.0 150.0 Z" fill="#f4f4f4"/><path d="M48.4 68.5 L41.5 70.8 L67.5 148.8 L74.4 146.5 Z" fill="#3c9a4a"/><path d="M41.5 70.8 L34.5 73.2 L60.5 151.2 L67.5 148.8 Z" fill="#f4dc1a"/><path d="M34.5 73.2 L27.6 75.5 L53.6 153.5 L60.5 151.2 Z" fill="#3c9a4a"/><circle cx="58" cy="128" r="8" fill="#c0a030"/><path d="M38.0 48.0 L56.0 48.0 L58.0 64.0 L36.0 66.0 Z" fill="#b89078"/><defs><radialGradient id="p11" cx="0.42" cy="0.38" r="0.7"><stop offset="0" stop-color="#dcb4a0"/><stop offset="0.55" stop-color="#dcb4a0"/><stop offset="1" stop-color="#a07868"/></radialGradient></defs><ellipse cx="49.0" cy="29.2" rx="24.9" ry="23.0" fill="#3a3a3a"/><ellipse cx="49.0" cy="37.6" rx="22.8" ry="25.4" fill="url(#p11)"/><g fill="#3a2020" opacity="0.7"><ellipse cx="40.1" cy="32.8" rx="4.7" ry="1.6"/><ellipse cx="57.9" cy="32.8" rx="4.7" ry="1.6"/><rect x="34.9" y="28.4" width="10.6" height="1.4"/><rect x="52.5" y="28.4" width="10.6" height="1.4"/><path d="M49.0 34.1 L51.8 42.2 L47.1 42.2 Z" opacity="0.5"/><rect x="41.9" y="49.5" width="14.1" height="1.6"/></g><rect x="40.5" y="45.7" width="16.9" height="2.4" rx="2" fill="#3a2a28" opacity="0.8"/></svg>
<svg x="841" y="18" width="49" height="77" viewBox="0 0 100 150" preserveAspectRatio="none"><rect width="100" height="150" fill="#787878"/><path d="M0.0 150.0 L0.0 86.0 L20.0 78.0 L38.0 72.0 L64.0 72.0 L84.0 80.0 L100.0 86.0 L100.0 150.0 Z" fill="#101010"/><path d="M38.0 74.0 L64.0 74.0 L68.0 150.0 L50.0 150.0 Z" fill="#f0f0f0"/><path d="M49.8 82.1 L44.6 83.4 L60.6 149.4 L65.8 148.1 Z" fill="#606060"/><path d="M44.6 83.4 L39.4 84.6 L55.4 150.6 L60.6 149.4 Z" fill="#9a9a9a"/><path d="M39.4 84.6 L34.2 85.9 L50.2 151.9 L55.4 150.6 Z" fill="#606060"/><path d="M42.0 56.0 L60.0 56.0 L62.0 74.0 L40.0 76.0 Z" fill="#a8a8a8"/><defs><radialGradient id="p12" cx="0.42" cy="0.38" r="0.7"><stop offset="0" stop-color="#d2d2d2"/><stop offset="0.55" stop-color="#d2d2d2"/><stop offset="1" stop-color="#8a8a8a"/></radialGradient></defs><ellipse cx="51.0" cy="29.2" rx="22.6" ry="23.0" fill="#141414"/><ellipse cx="51.0" cy="37.6" rx="20.6" ry="25.4" fill="url(#p12)"/><g fill="#222" opacity="0.7"><ellipse cx="42.9" cy="32.8" rx="4.3" ry="1.6"/><ellipse cx="59.1" cy="32.8" rx="4.3" ry="1.6"/><rect x="38.2" y="28.4" width="9.6" height="1.4"/><rect x="54.2" y="28.4" width="9.6" height="1.4"/><path d="M51.0 34.1 L53.6 42.2 L49.3 42.2 Z" opacity="0.5"/><rect x="44.6" y="49.5" width="12.8" height="1.6"/></g></svg>
<svg x="911" y="19" width="50" height="76" viewBox="0 0 100 150" preserveAspectRatio="none"><rect width="100" height="150" fill="#f4f4f4"/><rect width="30" height="88" fill="#d8d8d8"/><rect x="4" y="0" width="22" height="70" fill="#4a4a4a"/><rect x="10" y="4" width="8" height="60" fill="#7a7a7a"/><rect x="22" y="0" width="10" height="18" fill="#222"/><path d="M0.0 150.0 L0.0 102.0 L20.0 92.0 L38.0 84.0 L66.0 84.0 L88.0 92.0 L100.0 98.0 L100.0 150.0 Z" fill="#0e0e0e"/><path d="M40.0 86.0 L64.0 86.0 L56.0 130.0 L50.0 130.0 Z" fill="#e8e8e8"/><path d="M48.0 90.0 L56.0 90.0 L56.0 126.0 L50.0 128.0 Z" fill="#5a5a5a"/><path d="M40.0 66.0 L62.0 66.0 L64.0 86.0 L38.0 88.0 Z" fill="#a0a0a0"/><defs><radialGradient id="p13" cx="0.42" cy="0.38" r="0.7"><stop offset="0" stop-color="#d4d4d4"/><stop offset="0.55" stop-color="#d4d4d4"/><stop offset="1" stop-color="#8a8a8a"/></radialGradient></defs><ellipse cx="51.0" cy="44.2" rx="27.3" ry="26.5" fill="#cfcfcf"/><ellipse cx="51.0" cy="53.9" rx="25.0" ry="29.3" fill="url(#p13)"/><g fill="#222" opacity="0.7"><ellipse cx="41.2" cy="48.3" rx="5.2" ry="1.9"/><ellipse cx="60.8" cy="48.3" rx="5.2" ry="1.9"/><rect x="35.5" y="43.3" width="11.6" height="1.6"/><rect x="54.9" y="43.3" width="11.6" height="1.6"/><path d="M51.0 49.8 L54.1 59.2 L48.9 59.2 Z" opacity="0.5"/><rect x="43.3" y="67.6" width="15.5" height="1.9"/></g><g fill="none" stroke="#222" stroke-width="2.2"><rect x="30.9" y="43.9" width="17.5" height="9.4" rx="3"/><rect x="53.6" y="43.9" width="17.5" height="9.4" rx="3"/></g></svg>
<svg x="1050" y="20" width="55" height="75" viewBox="0 0 100 150" preserveAspectRatio="none"><rect width="100" height="150" fill="#3a1c14"/><rect y="4" width="100" height="24" fill="#7a3424"/><rect y="28" width="100" height="4" fill="#1e0e0a"/><rect y="32" width="100" height="26" fill="#8a3a28"/><rect y="58" width="100" height="4" fill="#1e0e0a"/><rect y="62" width="100" height="30" fill="#a04030"/><rect y="92" width="100" height="4" fill="#1e0e0a"/><rect y="96" width="100" height="30" fill="#6a2a1e"/><rect x="4" y="8" width="5" height="22" fill="#3a5aa8"/><rect x="88" y="40" width="6" height="20" fill="#c86040"/><path d="M0.0 150.0 L0.0 94.0 L16.0 84.0 L36.0 76.0 L62.0 74.0 L86.0 80.0 L100.0 86.0 L100.0 150.0 Z" fill="#1a1f30"/><path d="M38.0 76.0 L60.0 74.0 L54.0 100.0 L46.0 100.0 Z" fill="#f0f0f0"/><path d="M46.0 78.0 L54.0 78.0 L54.0 100.0 L48.0 104.0 Z" fill="#1a1a2a"/><path d="M31.7 76.9 L25.2 80.3 L61.2 148.3 L67.7 144.9 Z" fill="#1e8a3c"/><path d="M25.2 80.3 L18.8 83.7 L54.8 151.7 L61.2 148.3 Z" fill="#f2d020"/><path d="M18.8 83.7 L12.3 87.1 L48.3 155.1 L54.8 151.7 Z" fill="#1e8a3c"/><circle cx="46" cy="132" r="8" fill="#c0b060"/><path d="M40.0 58.0 L58.0 58.0 L60.0 76.0 L38.0 78.0 Z" fill="#a88070"/><defs><radialGradient id="p14" cx="0.42" cy="0.38" r="0.7"><stop offset="0" stop-color="#c8a898"/><stop offset="0.55" stop-color="#c8a898"/><stop offset="1" stop-color="#8a6a60"/></radialGradient></defs><ellipse cx="50.0" cy="36.2" rx="22.6" ry="23.0" fill="#6a7278"/><ellipse cx="50.0" cy="44.6" rx="20.6" ry="25.4" fill="url(#p14)"/><g fill="#2a1a18" opacity="0.7"><ellipse cx="41.9" cy="39.8" rx="4.3" ry="1.6"/><ellipse cx="58.1" cy="39.8" rx="4.3" ry="1.6"/><rect x="37.2" y="35.4" width="9.6" height="1.4"/><rect x="53.2" y="35.4" width="9.6" height="1.4"/><path d="M50.0 41.1 L52.6 49.2 L48.3 49.2 Z" opacity="0.5"/><rect x="43.6" y="56.5" width="12.8" height="1.6"/></g></svg>
<svg x="1295" y="15" width="48" height="71" viewBox="0 0 100 150" preserveAspectRatio="none"><rect width="100" height="150" fill="#3a4a3e"/><rect x="2" y="0" width="12" height="92" fill="#d8dcd8"/><rect x="22" y="0" width="12" height="92" fill="#c8ccc8"/><rect x="40" y="0" width="40" height="10" fill="#c0c4c0"/><rect x="78" y="0" width="22" height="100" fill="#e4e8e4"/><rect x="0" y="92" width="40" height="20" fill="#2a4a2a"/><path d="M0.0 150.0 L0.0 102.0 L18.0 92.0 L38.0 84.0 L62.0 82.0 L86.0 88.0 L100.0 94.0 L100.0 150.0 Z" fill="#151515"/><path d="M40.0 84.0 L60.0 82.0 L56.0 108.0 L46.0 108.0 Z" fill="#f4f4f4"/><path d="M46.0 88.0 L54.0 88.0 L54.0 110.0 L48.0 112.0 Z" fill="#b01818"/><path d="M32.7 82.5 L25.6 87.5 L67.6 147.5 L74.7 142.5 Z" fill="#50a850"/><path d="M25.6 87.5 L18.4 92.5 L60.4 152.5 L67.6 147.5 Z" fill="#f4dc20"/><path d="M18.4 92.5 L11.3 97.5 L53.3 157.5 L60.4 152.5 Z" fill="#50a850"/><circle cx="46" cy="124" r="8" fill="#c0a040"/><defs><radialGradient id="p15" cx="0.42" cy="0.38" r="0.7"><stop offset="0" stop-color="#d4a88c"/><stop offset="0.55" stop-color="#d4a88c"/><stop offset="1" stop-color="#a07860"/></radialGradient></defs><ellipse cx="50.0" cy="38.7" rx="24.9" ry="24.8" fill="#8a8a8a"/><ellipse cx="50.0" cy="47.7" rx="22.8" ry="27.4" fill="url(#p15)"/><path d="M28.8 50.4 Q50.0 82.4 71.2 50.4 Q50.0 62.0 28.8 50.4 Z" fill="#c4c4c4"/><g fill="#3a2018" opacity="0.7"><ellipse cx="41.1" cy="42.5" rx="4.7" ry="1.7"/><ellipse cx="58.9" cy="42.5" rx="4.7" ry="1.7"/><rect x="35.9" y="37.8" width="10.6" height="1.5"/><rect x="53.5" y="37.8" width="10.6" height="1.5"/><path d="M50.0 44.0 L52.8 52.7 L48.1 52.7 Z" opacity="0.5"/><rect x="42.9" y="60.6" width="14.1" height="1.7"/></g></svg>
<svg x="1493" y="17" width="47" height="72" viewBox="0 0 100 150" preserveAspectRatio="none"><rect width="100" height="150" fill="#eef0ec"/><rect x="8" y="0" width="16" height="110" fill="#9aa49a"/><rect x="68" y="0" width="8" height="90" fill="#c4ccc4"/><rect x="82" y="0" width="8" height="90" fill="#b0bab0"/><rect x="0" y="40" width="8" height="60" fill="#6a8a5a"/><path d="M0.0 150.0 L0.0 100.0 L16.0 88.0 L36.0 80.0 L60.0 78.0 L84.0 84.0 L100.0 92.0 L100.0 150.0 Z" fill="#dacfc6"/><path d="M40.0 82.0 L56.0 80.0 L52.0 112.0 L44.0 112.0 Z" fill="#f8f0e8"/><path d="M20.3 83.5 L12.1 89.2 L52.1 147.2 L60.3 141.5 Z" fill="#1a9a3a"/><path d="M12.1 89.2 L3.9 94.8 L43.9 152.8 L52.1 147.2 Z" fill="#f4dc10"/><path d="M3.9 94.8 L-4.3 100.5 L35.7 158.5 L43.9 152.8 Z" fill="#1a9a3a"/><circle cx="30" cy="126" r="9" fill="#2a4aa0"/><path d="M38.0 62.0 L56.0 62.0 L58.0 80.0 L36.0 82.0 Z" fill="#d09878"/><defs><radialGradient id="p16" cx="0.42" cy="0.38" r="0.7"><stop offset="0" stop-color="#e8b898"/><stop offset="0.55" stop-color="#e8b898"/><stop offset="1" stop-color="#b07a5a"/></radialGradient></defs><ellipse cx="47.0" cy="37.5" rx="23.7" ry="22.1" fill="#6a3620"/><ellipse cx="47.0" cy="45.6" rx="21.7" ry="24.4" fill="url(#p16)"/><g fill="#3a1a10" opacity="0.7"><ellipse cx="38.5" cy="40.9" rx="4.5" ry="1.6"/><ellipse cx="55.5" cy="40.9" rx="4.5" ry="1.6"/><rect x="33.6" y="36.7" width="10.1" height="1.3"/><rect x="50.4" y="36.7" width="10.1" height="1.3"/><path d="M47.0 42.2 L49.7 50.0 L45.2 50.0 Z" opacity="0.5"/><rect x="40.3" y="57.0" width="13.4" height="1.6"/></g></svg>
<svg x="1604" y="18" width="49" height="72" viewBox="0 0 100 150" preserveAspectRatio="none"><rect width="100" height="150" fill="#3e2418"/><rect y="6" width="100" height="26" fill="#6a2a20"/><rect y="32" width="100" height="4" fill="#1e0e0a"/><rect y="36" width="100" height="28" fill="#5a2820"/><rect y="64" width="100" height="4" fill="#1e0e0a"/><rect y="68" width="100" height="30" fill="#6a3024"/><rect x="0" y="12" width="12" height="138" fill="#2a8a3a"/><path d="M2 40 L10 50 L2 60 Z" fill="#e8c820"/><rect x="3" y="44" width="5" height="12" fill="#2a4a9a"/><path d="M12.0 150.0 L12.0 62.0 L28.0 52.0 L42.0 48.0 L58.0 48.0 L72.0 52.0 L88.0 60.0 L90.0 150.0 Z" fill="#141414"/><path d="M42.0 48.0 L58.0 48.0 L55.0 80.0 L45.0 80.0 Z" fill="#f0f0f0"/><path d="M48.0 50.0 L53.0 50.0 L54.0 78.0 L49.0 80.0 Z" fill="#2a3a5a"/><path d="M44.0 40.0 L56.0 40.0 L57.0 50.0 L43.0 50.0 Z" fill="#c8a090"/><defs><radialGradient id="p17" cx="0.42" cy="0.38" r="0.7"><stop offset="0" stop-color="#e4c4b4"/><stop offset="0.55" stop-color="#e4c4b4"/><stop offset="1" stop-color="#a88070"/></radialGradient></defs><ellipse cx="50.0" cy="24.8" rx="16.6" ry="14.1" fill="#e0e0e0"/><ellipse cx="50.0" cy="30.0" rx="15.2" ry="15.6" fill="url(#p17)"/><g fill="#3a2a20" opacity="0.7"><ellipse cx="44.0" cy="27.0" rx="3.1" ry="1.0"/><ellipse cx="56.0" cy="27.0" rx="3.1" ry="1.0"/><rect x="40.6" y="24.3" width="7.1" height="0.8"/><rect x="52.4" y="24.3" width="7.1" height="0.8"/><path d="M50.0 27.8 L51.9 32.8 L48.7 32.8 Z" opacity="0.5"/><rect x="45.3" y="37.3" width="9.4" height="1.0"/></g></svg>
<svg x="1688" y="19" width="49" height="72" viewBox="0 0 100 150" preserveAspectRatio="none"><rect width="100" height="150" fill="#5a3a24"/><rect y="0" width="100" height="16" fill="#3a3030"/><rect x="60" y="16" width="40" height="90" fill="#8a5a2c"/><rect x="0" y="16" width="10" height="60" fill="#6a4a2a"/><path d="M6 24 L34 30 L30 120 L4 112 Z" fill="#1a5a3a"/><path d="M0 60 L8 62 L8 110 L0 110 Z" fill="#2a4a8a"/><path d="M0.0 150.0 L0.0 104.0 L20.0 92.0 L38.0 84.0 L64.0 82.0 L86.0 88.0 L100.0 94.0 L100.0 150.0 Z" fill="#16161c"/><path d="M40.0 84.0 L62.0 82.0 L56.0 116.0 L48.0 116.0 Z" fill="#f0f0f0"/><path d="M47.0 88.0 L55.0 88.0 L56.0 140.0 L48.0 142.0 Z" fill="#2a2a5a"/><path d="M40.0 64.0 L60.0 64.0 L62.0 84.0 L38.0 86.0 Z" fill="#b88878"/><defs><radialGradient id="p18" cx="0.42" cy="0.38" r="0.7"><stop offset="0" stop-color="#d8a898"/><stop offset="0.55" stop-color="#d8a898"/><stop offset="1" stop-color="#a07060"/></radialGradient></defs><ellipse cx="55.0" cy="38.7" rx="26.1" ry="24.8" fill="#2a2a2a"/><ellipse cx="55.0" cy="47.7" rx="23.9" ry="27.4" fill="url(#p18)"/><g fill="#2a1a18" opacity="0.7"><ellipse cx="45.6" cy="42.5" rx="4.9" ry="1.7"/><ellipse cx="64.4" cy="42.5" rx="4.9" ry="1.7"/><rect x="40.2" y="37.8" width="11.1" height="1.5"/><rect x="58.7" y="37.8" width="11.1" height="1.5"/><path d="M55.0 44.0 L58.0 52.7 L53.0 52.7 Z" opacity="0.5"/><rect x="47.6" y="60.6" width="14.8" height="1.7"/></g></svg>
</g>
</svg>

</body></html>
